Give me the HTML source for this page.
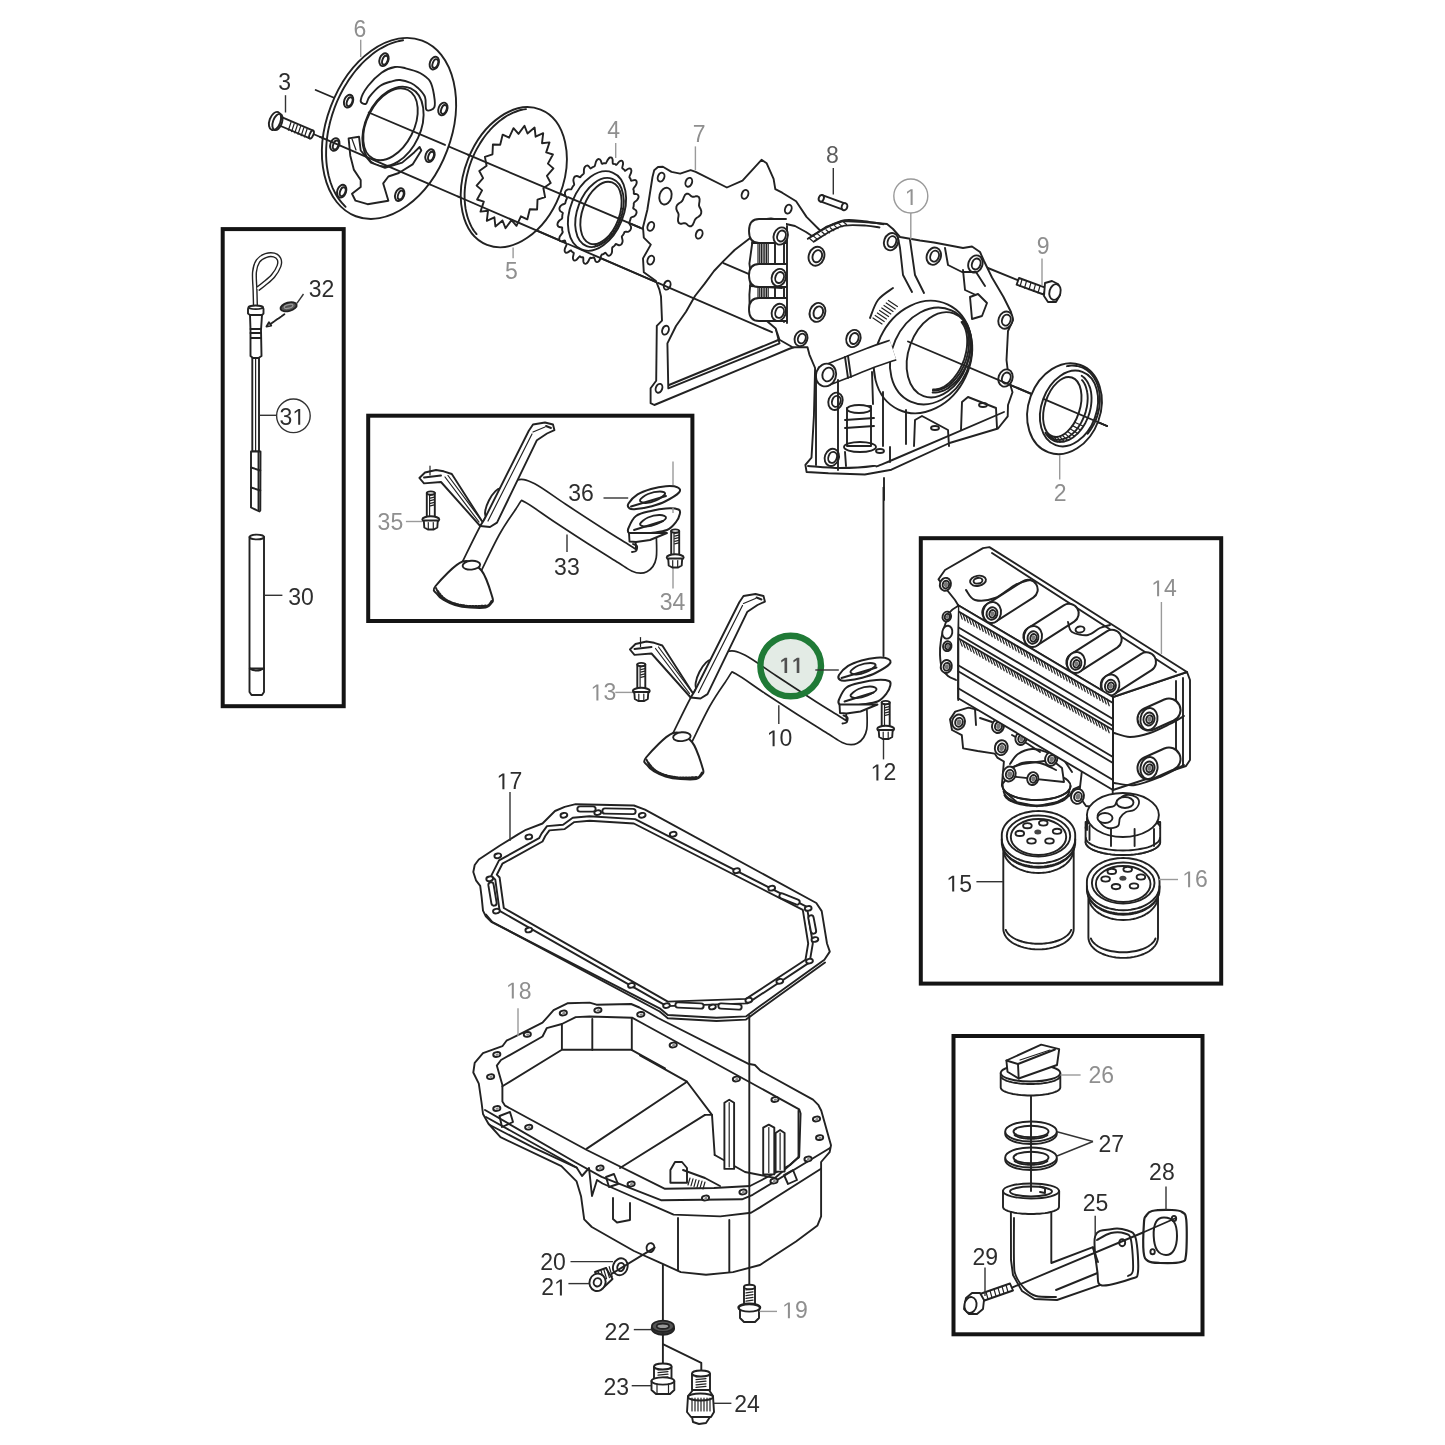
<!DOCTYPE html>
<html><head><meta charset="utf-8"><style>
html,body{margin:0;padding:0;background:#fff;}
svg{display:block;}
.s{fill:none;stroke:#222;stroke-width:1.9;stroke-linejoin:round;stroke-linecap:round;}
.w{fill:#fff;stroke:#222;stroke-width:1.9;stroke-linejoin:round;stroke-linecap:round;}
.t{fill:none;stroke:#222;stroke-width:1.2;stroke-linecap:round;}
.box{fill:none;stroke:#141414;stroke-width:4.0;}
.ld{fill:none;stroke:#333;stroke-width:1.4;}
.lg{fill:none;stroke:#9a9a9a;stroke-width:1.4;}
text{font-family:"Liberation Sans",sans-serif;font-size:23px;}
.lab{filter:grayscale(1);}
.d{fill:#2e2e2e;}
.g{fill:#8f8f8f;}
.m{fill:#5c5c5c;}
</style></head><body>
<svg width="1445" height="1445" viewBox="0 0 1445 1445">
<rect width="1445" height="1445" fill="#fff"/>
<rect class="box" x="222.7" y="229.1" width="121" height="477.1"/>
<rect class="box" x="368.2" y="415.7" width="324.2" height="205.3"/>
<rect class="box" x="920.8" y="538.2" width="300.4" height="445.4"/>
<rect class="box" x="953.5" y="1036" width="249" height="298.3"/>
<line class="s" x1="315.7" y1="90" x2="1107" y2="426" stroke-width="1.6"/>
<line class="s" x1="311" y1="133" x2="772" y2="332.2" stroke-width="1.6"/>
<line class="s" x1="983" y1="266" x2="1020" y2="281" stroke-width="1.6"/>
<ellipse class="w" cx="389" cy="128.4" rx="62.2" ry="93.9" transform="rotate(20.7 389 128.4)" />
<path class="s" d="M345.6,206.8 C345,206.1 343.1,204.3 341.9,202.9 C340.7,201.5 339.5,200 338.4,198.4 C337.3,196.9 336.3,195.2 335.4,193.5 C334.4,191.8 333.6,189.9 332.7,188.1 C331.9,186.2 331.2,184.3 330.5,182.3 C329.9,180.2 329.3,178.2 328.7,176 C328.2,173.9 327.8,171.7 327.4,169.5 C327,167.3 326.7,165 326.5,162.7 C326.3,160.4 326.2,158 326.1,155.6 C326.1,153.2 326.1,150.8 326.2,148.4 C326.3,145.9 326.5,143.4 326.7,141 C327,138.5 327.3,136 327.7,133.5 C328.1,131 328.6,128.5 329.2,126 C329.7,123.5 330.3,121 331.1,118.5 C331.8,116 332.5,113.5 333.4,111.1 C334.2,108.6 335.1,106.2 336.1,103.8 C337.1,101.4 338.2,99 339.3,96.7 C340.4,94.3 341.6,92 342.8,89.8 C344,87.5 345.3,85.3 346.7,83.2 C348,81 349.4,78.9 350.9,76.9 C352.3,74.9 353.8,72.9 355.3,71 C356.9,69.1 358.5,67.2 360.1,65.5 C361.7,63.7 363.4,62 365.1,60.4 C366.7,58.8 368.5,57.3 370.2,55.9 C372,54.4 373.7,53.1 375.5,51.8 C377.3,50.6 379.2,49.4 381,48.3 C382.8,47.3 384.6,46.3 386.5,45.4 C388.3,44.5 390.2,43.8 392,43.1 C393.9,42.4 395.8,41.8 397.6,41.4 C399.4,40.9 402.2,40.5 403.1,40.3" stroke-width="1.3"/>
<ellipse class="w" cx="384" cy="59.7" rx="4.4" ry="6.6" transform="rotate(20 384 59.7)" stroke-width="1.8"/>
<ellipse class="s" cx="385" cy="60.2" rx="2.6" ry="4.6" transform="rotate(20 385 60.2)" stroke-width="1.2"/>
<ellipse class="w" cx="434.3" cy="63.1" rx="4.4" ry="6.6" transform="rotate(20 434.3 63.1)" stroke-width="1.8"/>
<ellipse class="s" cx="435.3" cy="63.6" rx="2.6" ry="4.6" transform="rotate(20 435.3 63.6)" stroke-width="1.2"/>
<ellipse class="w" cx="348.6" cy="101.2" rx="4.4" ry="6.6" transform="rotate(20 348.6 101.2)" stroke-width="1.8"/>
<ellipse class="s" cx="349.6" cy="101.7" rx="2.6" ry="4.6" transform="rotate(20 349.6 101.7)" stroke-width="1.2"/>
<ellipse class="w" cx="442.9" cy="109" rx="4.4" ry="6.6" transform="rotate(20 442.9 109)" stroke-width="1.8"/>
<ellipse class="s" cx="443.9" cy="109.5" rx="2.6" ry="4.6" transform="rotate(20 443.9 109.5)" stroke-width="1.2"/>
<ellipse class="w" cx="334.8" cy="144.5" rx="4.4" ry="6.6" transform="rotate(20 334.8 144.5)" stroke-width="1.8"/>
<ellipse class="s" cx="335.8" cy="145" rx="2.6" ry="4.6" transform="rotate(20 335.8 145)" stroke-width="1.2"/>
<ellipse class="w" cx="430" cy="155.7" rx="4.4" ry="6.6" transform="rotate(20 430 155.7)" stroke-width="1.8"/>
<ellipse class="s" cx="431" cy="156.2" rx="2.6" ry="4.6" transform="rotate(20 431 156.2)" stroke-width="1.2"/>
<ellipse class="w" cx="341.7" cy="191.2" rx="4.4" ry="6.6" transform="rotate(20 341.7 191.2)" stroke-width="1.8"/>
<ellipse class="s" cx="342.7" cy="191.7" rx="2.6" ry="4.6" transform="rotate(20 342.7 191.7)" stroke-width="1.2"/>
<ellipse class="w" cx="399.7" cy="194.6" rx="4.4" ry="6.6" transform="rotate(20 399.7 194.6)" stroke-width="1.8"/>
<ellipse class="s" cx="400.7" cy="195.1" rx="2.6" ry="4.6" transform="rotate(20 400.7 195.1)" stroke-width="1.2"/>
<path class="w" d="M360.7,100.3 C361.1,97.3 364.5,90.6 368,86 C371.5,81.4 377,75.9 381.5,72.7 C386,69.5 391,67.7 395,67 C399,66.3 401.5,67.3 405.7,68.3 C409.9,69.3 415.9,70.8 420,73 C424.1,75.2 427.7,77.6 430,81.3 C432.3,85 433.3,90.7 434,95 C434.7,99.3 435.6,104.8 434.3,107.3 C433.1,109.8 428.1,111.6 426.5,109.9 C424.9,108.2 426.4,100.7 425,97 C423.6,93.3 420.4,90.3 418,88 C415.6,85.7 413.9,84.3 410.9,83 C407.9,81.7 403.2,80.3 400,80 C396.8,79.7 395.2,80.3 391.9,81.3 C388.6,82.3 383.8,83.4 380,86 C376.2,88.6 371.8,93.9 369.4,96.9 C367,99.9 367.3,103.2 365.9,103.8 C364.4,104.4 360.3,103.3 360.7,100.3 Z" />
<ellipse class="w" cx="393" cy="126.5" rx="27.5" ry="42" transform="rotate(25 393 126.5)" />
<ellipse class="w" cx="390.5" cy="124.3" rx="23.5" ry="38.5" transform="rotate(27 390.5 124.3)" stroke-width="2.3"/>
<path class="w" d="M348.6,138.4 L359,136.7 L360.7,150.5 L371,162.6 L385,167.8 L402.2,162.6 L414.4,152.2 L419.6,147 L421.3,150.5 L412.6,164.4 L398.8,173 L388.4,176.5 L383.2,183.4 L388.4,200.7 L367.6,204.2 L355.5,200.7 L352,193.8 L360.7,186.9 L360.7,180 L353.8,169.6 L350.3,155.7 Z" />
<line class="t" x1="352" y1="139" x2="356" y2="150" />
<line class="s" x1="368.7" y1="112.5" x2="445" y2="144.9" stroke-width="1.6"/>
<line class="s" x1="320" y1="136.9" x2="430" y2="184.4" stroke-width="1.6"/>
<path class="w" d="M278.3,125 L281.7,117.1 L313.2,130.6 L309.8,138.4 Z" />
<ellipse class="w" cx="311.5" cy="134.5" rx="1.8" ry="4.3" transform="rotate(23 311.5 134.5)" stroke-width="1.4"/>
<line class="t" x1="291" y1="122.3" x2="288.4" y2="130.2" />
<line class="t" x1="294.2" y1="123.7" x2="291.6" y2="131.6" />
<line class="t" x1="297.4" y1="125" x2="294.8" y2="132.9" />
<line class="t" x1="300.6" y1="126.4" x2="298" y2="134.3" />
<line class="t" x1="303.8" y1="127.8" x2="301.2" y2="135.7" />
<line class="t" x1="307" y1="129.2" x2="304.4" y2="137" />
<ellipse class="w" cx="275" cy="121" rx="5.5" ry="9.5" transform="rotate(20 275 121)" />
<ellipse class="s" cx="277.5" cy="122" rx="4.5" ry="8.5" transform="rotate(20 277.5 122)" stroke-width="1.4"/>
<ellipse class="w" cx="513.8" cy="177.2" rx="49.2" ry="72.7" transform="rotate(21.6 513.8 177.2)" />
<path class="s" d="M476.5,234.1 C476.1,233.5 474.7,231.8 473.9,230.7 C473.1,229.5 472.4,228.2 471.6,226.9 C470.9,225.6 470.3,224.2 469.7,222.8 C469.1,221.4 468.5,220 468,218.5 C467.5,217 467,215.4 466.7,213.8 C466.3,212.2 465.9,210.6 465.6,208.9 C465.4,207.3 465.1,205.6 465,203.9 C464.8,202.1 464.7,200.4 464.6,198.6 C464.6,196.8 464.6,195 464.6,193.2 C464.7,191.4 464.8,189.5 465,187.7 C465.1,185.8 465.4,184 465.7,182.1 C466,180.3 466.3,178.4 466.7,176.5 C467.1,174.7 467.6,172.8 468.1,170.9 C468.6,169.1 469.1,167.2 469.7,165.4 C470.4,163.5 471,161.7 471.7,159.9 C472.4,158.1 473.2,156.3 474,154.6 C474.8,152.8 475.7,151.1 476.6,149.4 C477.5,147.7 478.4,146 479.4,144.4 C480.4,142.7 481.5,141.1 482.5,139.6 C483.6,138 484.7,136.5 485.8,135 C487,133.6 488.1,132.1 489.3,130.8 C490.5,129.4 491.8,128.1 493,126.8 C494.3,125.6 495.6,124.4 496.9,123.2 C498.2,122.1 499.5,121 500.9,120 C502.2,119 503.6,118 504.9,117.1 C506.3,116.2 507.7,115.4 509.1,114.7 C510.5,113.9 511.9,113.2 513.3,112.6 C514.7,112 516.1,111.5 517.5,111 C519,110.5 520.4,110.1 521.8,109.8 C523.2,109.5 525.3,109.2 526,109.1" stroke-width="1.3"/>
<path class="w" d="M543.4,188.2 L545.1,197.1 L537.5,199.7 L537.1,209.5 L529.8,209.3 L527.3,219.4 L520.9,216.3 L516.5,225.8 L511.5,220.1 L505.5,228.2 L502.5,220.5 L495.4,226.5 L494.4,217.3 L486.8,220.8 L488,210.8 L480.5,211.6 L483.8,201.6 L477.1,199.5 L482.1,190.4 L476.6,185.6 L483.1,178.1 L479.3,171 L486.6,165.8 L484.9,156.9 L492.5,154.3 L492.9,144.5 L500.2,144.7 L502.7,134.6 L509.1,137.7 L513.5,128.2 L518.5,133.9 L524.5,125.8 L527.5,133.5 L534.6,127.5 L535.6,136.7 L543.2,133.2 L542,143.2 L549.5,142.4 L546.2,152.4 L552.9,154.5 L547.9,163.6 L553.4,168.4 L546.9,175.9 L550.7,183 Z" />
<line class="s" x1="458" y1="196.5" x2="568" y2="244" stroke-width="1.6"/>
<line class="s" x1="468" y1="154.7" x2="568" y2="197.1" stroke-width="1.6"/>
<path class="w" d="M629.1,223.1 C629.2,223.9 630.5,225.2 630.8,226.1 C631.2,227 631.1,227.9 631,228.6 C630.8,229.3 630.5,230 630,230.5 C629.5,231.1 628.9,231.5 628,231.8 C627.2,232 625.5,231.6 624.8,231.9 C624.2,232.2 624.2,233 623.9,233.5 C623.5,234.1 623.2,234.6 622.9,235.1 C622.5,235.7 621.9,235.8 621.8,236.7 C621.8,237.6 622.6,239.5 622.6,240.6 C622.7,241.6 622.4,242.5 622.1,243.2 C621.8,243.9 621.4,244.4 620.8,244.8 C620.3,245.1 619.6,245.4 618.8,245.2 C618,245.1 616.7,244 616,244 C615.4,244 615.2,244.9 614.8,245.3 C614.4,245.7 614,246.1 613.5,246.5 C613.1,246.9 612.5,246.8 612.2,247.7 C612,248.7 612.2,250.9 612,252.1 C611.8,253.2 611.4,253.9 610.9,254.5 C610.5,255.1 610,255.5 609.4,255.6 C608.8,255.8 608.2,255.8 607.6,255.3 C606.9,254.8 606.1,253.1 605.5,252.8 C604.9,252.5 604.5,253.4 604.1,253.6 C603.6,253.9 603.1,254.2 602.7,254.4 C602.2,254.7 601.7,254.3 601.3,255.1 C600.8,256 600.5,258.4 600,259.5 C599.5,260.6 599,261.2 598.5,261.6 C597.9,262.1 597.4,262.2 596.9,262.1 C596.4,262 595.8,261.7 595.4,261 C594.9,260.2 594.6,258.1 594.2,257.5 C593.7,257 593.2,257.7 592.8,257.8 C592.3,257.9 591.8,257.9 591.4,258 C590.9,258.1 590.6,257.4 590,258.1 C589.4,258.8 588.5,261.2 587.8,262.1 C587.1,263.1 586.5,263.5 586,263.7 C585.4,263.9 584.9,263.9 584.5,263.6 C584,263.2 583.7,262.7 583.4,261.7 C583.2,260.8 583.5,258.4 583.2,257.7 C583,256.9 582.4,257.5 582,257.3 C581.5,257.2 581.1,257.1 580.7,257 C580.3,256.8 580.1,256 579.5,256.5 C578.8,257 577.4,259.1 576.6,259.8 C575.8,260.4 575.2,260.6 574.6,260.6 C574.1,260.6 573.7,260.3 573.4,259.8 C573.1,259.3 572.9,258.6 572.9,257.5 C573,256.4 573.8,254 573.8,253.2 C573.7,252.3 573.1,252.6 572.7,252.3 C572.4,252 572,251.7 571.7,251.4 C571.4,251 571.5,250.2 570.8,250.4 C570.1,250.6 568.4,252.2 567.5,252.5 C566.6,252.9 566.1,252.8 565.6,252.6 C565.1,252.4 564.8,251.9 564.7,251.2 C564.6,250.6 564.6,249.8 564.9,248.7 C565.2,247.5 566.5,245.4 566.6,244.5 C566.8,243.6 566.2,243.6 566,243.2 C565.7,242.7 565.5,242.3 565.3,241.8 C565.1,241.3 565.4,240.4 564.7,240.4 C564.1,240.3 562.2,241.2 561.4,241.2 C560.6,241.3 560.1,240.9 559.7,240.5 C559.4,240 559.2,239.4 559.3,238.7 C559.3,238 559.5,237.1 560.1,236.1 C560.6,235.1 562.2,233.4 562.6,232.5 C563,231.7 562.4,231.4 562.3,230.9 C562.3,230.3 562.2,229.7 562.1,229.2 C562.1,228.6 562.5,227.8 562,227.4 C561.4,227.1 559.6,227.3 558.9,226.9 C558.1,226.6 557.8,226 557.6,225.4 C557.4,224.8 557.4,224.1 557.6,223.4 C557.9,222.7 558.2,221.9 559,221 C559.7,220.2 561.5,219.2 562,218.4 C562.6,217.7 562.1,217.2 562.2,216.6 C562.3,216 562.4,215.3 562.4,214.7 C562.5,214.1 563.1,213.5 562.7,212.8 C562.3,212.2 560.7,211.7 560.2,211 C559.6,210.4 559.5,209.6 559.4,208.9 C559.4,208.2 559.6,207.5 560,206.9 C560.3,206.2 560.9,205.5 561.7,205 C562.5,204.4 564.3,204.1 565,203.5 C565.6,203 565.4,202.3 565.6,201.7 C565.8,201.1 566,200.5 566.2,199.9 C566.5,199.3 567.1,198.9 566.9,198.1 C566.8,197.3 565.5,196 565.2,195.1 C564.8,194.2 564.9,193.3 565,192.6 C565.2,191.9 565.5,191.2 566,190.7 C566.5,190.1 567.1,189.7 568,189.4 C568.8,189.2 570.5,189.6 571.2,189.3 C571.8,189 571.8,188.2 572.1,187.7 C572.5,187.1 572.8,186.6 573.1,186.1 C573.5,185.5 574.1,185.4 574.2,184.5 C574.2,183.6 573.4,181.7 573.4,180.6 C573.3,179.6 573.6,178.7 573.9,178 C574.2,177.3 574.6,176.8 575.2,176.4 C575.7,176.1 576.4,175.8 577.2,176 C578,176.1 579.3,177.2 580,177.2 C580.6,177.2 580.8,176.3 581.2,175.9 C581.6,175.5 582,175.1 582.5,174.7 C582.9,174.3 583.5,174.4 583.8,173.5 C584,172.5 583.8,170.3 584,169.1 C584.2,168 584.6,167.3 585.1,166.7 C585.5,166.1 586,165.7 586.6,165.6 C587.2,165.4 587.8,165.4 588.4,165.9 C589.1,166.4 589.9,168.1 590.5,168.4 C591.1,168.7 591.5,167.8 591.9,167.6 C592.4,167.3 592.9,167 593.3,166.8 C593.8,166.5 594.3,166.9 594.7,166.1 C595.2,165.2 595.5,162.8 596,161.7 C596.5,160.6 597,160 597.5,159.6 C598.1,159.1 598.6,159 599.1,159.1 C599.6,159.2 600.2,159.5 600.6,160.2 C601.1,161 601.4,163.1 601.8,163.7 C602.3,164.2 602.8,163.5 603.2,163.4 C603.7,163.3 604.2,163.3 604.6,163.2 C605.1,163.1 605.4,163.8 606,163.1 C606.6,162.4 607.5,160 608.2,159.1 C608.9,158.1 609.5,157.7 610,157.5 C610.6,157.3 611.1,157.3 611.5,157.6 C612,158 612.3,158.5 612.6,159.5 C612.8,160.4 612.5,162.8 612.8,163.5 C613,164.3 613.6,163.7 614,163.9 C614.5,164 614.9,164.1 615.3,164.2 C615.7,164.4 615.9,165.2 616.5,164.7 C617.2,164.2 618.6,162.1 619.4,161.4 C620.2,160.8 620.8,160.6 621.4,160.6 C621.9,160.6 622.3,160.9 622.6,161.4 C622.9,161.9 623.1,162.6 623.1,163.7 C623,164.8 622.2,167.2 622.2,168 C622.3,168.9 622.9,168.6 623.3,168.9 C623.6,169.2 624,169.5 624.3,169.8 C624.6,170.2 624.5,171 625.2,170.8 C625.9,170.6 627.6,169 628.5,168.7 C629.4,168.3 629.9,168.4 630.4,168.6 C630.9,168.8 631.2,169.3 631.3,170 C631.4,170.6 631.4,171.4 631.1,172.5 C630.8,173.7 629.5,175.8 629.4,176.7 C629.2,177.6 629.8,177.6 630,178 C630.3,178.5 630.5,178.9 630.7,179.4 C630.9,179.9 630.6,180.8 631.3,180.8 C631.9,180.9 633.8,180 634.6,180 C635.4,179.9 635.9,180.3 636.3,180.7 C636.6,181.2 636.8,181.8 636.7,182.5 C636.7,183.2 636.5,184.1 635.9,185.1 C635.4,186.1 633.8,187.8 633.4,188.7 C633,189.5 633.6,189.8 633.7,190.3 C633.7,190.9 633.8,191.5 633.9,192 C633.9,192.6 633.5,193.4 634,193.8 C634.6,194.1 636.4,193.9 637.1,194.3 C637.9,194.6 638.2,195.2 638.4,195.8 C638.6,196.4 638.6,197.1 638.4,197.8 C638.1,198.5 637.8,199.3 637,200.2 C636.3,201 634.5,202 634,202.8 C633.4,203.5 633.9,204 633.8,204.6 C633.7,205.2 633.6,205.9 633.6,206.5 C633.5,207.1 632.9,207.7 633.3,208.4 C633.7,209 635.3,209.5 635.8,210.2 C636.4,210.8 636.5,211.6 636.6,212.3 C636.6,213 636.4,213.7 636,214.3 C635.7,215 635.1,215.7 634.3,216.2 C633.5,216.8 631.7,217.1 631,217.7 C630.4,218.2 630.6,218.9 630.4,219.5 C630.2,220.1 630,220.7 629.8,221.3 C629.5,221.9 628.9,222.3 629.1,223.1 Z" />
<ellipse class="w" cx="597" cy="211" rx="26.5" ry="41.5" transform="rotate(22 597 211)" stroke-width="2.2"/>
<ellipse class="s" cx="599.5" cy="212.5" rx="22" ry="36" transform="rotate(21 599.5 212.5)" stroke-width="1.3"/>
<ellipse class="w" cx="601" cy="213" rx="18.5" ry="32.5" transform="rotate(20 601 213)" stroke-width="2.2"/>
<line class="t" x1="621.1" y1="208.5" x2="623.2" y2="208.4" stroke-width="1.1"/>
<line class="t" x1="620.6" y1="211.8" x2="622.5" y2="212" stroke-width="1.1"/>
<line class="t" x1="619.8" y1="215" x2="621.6" y2="215.6" stroke-width="1.1"/>
<line class="t" x1="618.8" y1="218.3" x2="620.5" y2="219.2" stroke-width="1.1"/>
<line class="t" x1="617.6" y1="221.4" x2="619.1" y2="222.7" stroke-width="1.1"/>
<line class="t" x1="616.2" y1="224.5" x2="617.5" y2="226.1" stroke-width="1.1"/>
<line class="t" x1="614.6" y1="227.5" x2="615.7" y2="229.3" stroke-width="1.1"/>
<line class="t" x1="613" y1="230.3" x2="613.7" y2="232.4" stroke-width="1.1"/>
<line class="t" x1="611.1" y1="232.9" x2="611.6" y2="235.2" stroke-width="1.1"/>
<line class="t" x1="609.2" y1="235.3" x2="609.3" y2="237.8" stroke-width="1.1"/>
<line class="t" x1="607.2" y1="237.5" x2="606.9" y2="240.1" stroke-width="1.1"/>
<line class="t" x1="605.1" y1="239.4" x2="604.5" y2="242.2" stroke-width="1.1"/>
<line class="t" x1="602.9" y1="241" x2="602" y2="243.8" stroke-width="1.1"/>
<line class="t" x1="600.8" y1="242.3" x2="599.4" y2="245.2" stroke-width="1.1"/>
<line class="t" x1="598.6" y1="243.2" x2="596.9" y2="246.2" stroke-width="1.1"/>
<line class="t" x1="596.5" y1="243.9" x2="594.4" y2="246.8" stroke-width="1.1"/>
<line class="s" x1="568" y1="197.1" x2="640" y2="227.7" stroke-width="1.6"/>
<line class="s" x1="568" y1="244" x2="656" y2="282" stroke-width="1.6"/>
<path class="w" d="M652.5,177 L654.2,170.2 L658,167 L662.9,166.7 L671.5,171.9 L680.2,173.6 L690.6,170.2 L695.7,171.9 L726.9,187.5 L742.5,180.6 L761.5,159.8 L766.7,163.3 L773.6,178.8 L775.3,189.2 L782.2,192.7 L796.1,201.3 L806.5,216.9 L818.6,229 L830,240 L800,345 L788.8,349 L654.3,405 L650.6,403.2 L650.6,388.3 L656.2,380.8 L656.8,325.9 L662,320.7 L661,296.5 L659.4,289.6 L656,281 L643.8,272.2 L643,258.4 L650.8,244.6 L643.8,237.6 L643,227.3 L647.3,210 Z" />
<path class="w" d="M668.3,388.3 L667.4,343.4 L676,326 L686,311.7 L695,296 L704.7,283.6 L714,271 L723.4,261.2 L734.6,250 L752.8,236 L779.5,343.4 Z" />
<line class="s" x1="669" y1="385" x2="779.5" y2="339.5" stroke-width="2.6"/>
<ellipse class="w" cx="661.1" cy="177.1" rx="3.2" ry="4.6" transform="rotate(20 661.1 177.1)" stroke-width="1.8"/>
<ellipse class="w" cx="688.8" cy="182.3" rx="3.2" ry="4.6" transform="rotate(20 688.8 182.3)" stroke-width="1.8"/>
<ellipse class="w" cx="745" cy="194.4" rx="3.2" ry="4.6" transform="rotate(20 745 194.4)" stroke-width="1.8"/>
<ellipse class="w" cx="788.3" cy="209.1" rx="3.2" ry="4.6" transform="rotate(20 788.3 209.1)" stroke-width="1.8"/>
<ellipse class="w" cx="650.8" cy="226.4" rx="3.2" ry="4.6" transform="rotate(20 650.8 226.4)" stroke-width="1.8"/>
<ellipse class="w" cx="699.2" cy="234.2" rx="3.2" ry="4.6" transform="rotate(20 699.2 234.2)" stroke-width="1.8"/>
<ellipse class="w" cx="650.8" cy="260.1" rx="3.2" ry="4.6" transform="rotate(20 650.8 260.1)" stroke-width="1.8"/>
<ellipse class="w" cx="667.2" cy="285.2" rx="3.2" ry="4.6" transform="rotate(20 667.2 285.2)" stroke-width="1.8"/>
<ellipse class="w" cx="665.5" cy="330.2" rx="3.2" ry="4.6" transform="rotate(20 665.5 330.2)" stroke-width="1.8"/>
<ellipse class="w" cx="659" cy="388.3" rx="3.2" ry="4.6" transform="rotate(20 659 388.3)" stroke-width="1.8"/>
<ellipse class="w" cx="665.5" cy="196.1" rx="6" ry="8.5" transform="rotate(15 665.5 196.1)" stroke-width="1.9"/>
<path class="w" d="M701.2,213.3 L700.2,215.3 L698.5,216.8 L696.8,217.8 L695.5,218.9 L694.6,220.5 L693.8,222.7 L692.7,224.9 L691.1,226.2 L689.4,226.2 L687.8,225.2 L686.5,223.9 L685.3,223.2 L683.8,223.2 L682,223.7 L680.2,223.8 L678.7,222.9 L678,220.9 L678.1,218.5 L678.5,216.2 L678.6,214.3 L678,212.7 L677,211 L676.3,208.9 L676.4,206.7 L677.4,204.7 L679.1,203.2 L680.8,202.2 L682.1,201.1 L683,199.5 L683.8,197.3 L684.9,195.1 L686.5,193.8 L688.2,193.8 L689.8,194.8 L691.1,196.1 L692.3,196.8 L693.8,196.8 L695.5,196.3 L697.4,196.2 L698.9,197.1 L699.6,199.1 L699.5,201.5 L699.1,203.8 L699,205.7 L699.6,207.3 L700.6,209 L701.3,211.1 Z" />
<line class="s" x1="723.4" y1="263.1" x2="752" y2="275.3" stroke-width="1.6"/>
<line class="s" x1="658" y1="282.9" x2="772" y2="332.2" stroke-width="1.6"/>
<path class="w" d="M753.7,232.5 L756,224 L762,219.5 L771,218.5 L780,220 L786,224 L795,226 L806,232 L812,236 L826,227 L843,221 L864,222 L876,223 L887,224 L893,229 L900,237 L920,240.5 L934,242.5 L963,248 L972,246.5 L980,252 L984,261 L992,277.5 L1003.5,297 L1011,312 L1013,320 L1008,331 L1006.5,360 L1008.9,380 L1012.5,392.2 L1008,405 L1007.7,416.4 L998,428.5 L949.5,443 L891.4,469.7 L864.8,474.5 L828.4,473.3 L806.6,472 L805.4,464.8 L811.5,457.6 L813.9,416.4 L815.1,368 L809.4,354.6 L807.5,347.2 L792.6,347.2 L779.5,339.7 L775.7,328.5 L764.5,319.1 L751.4,311.7 L749.6,306 L749.4,294.7 L751,275.7 L749.4,263.6 Z" />
<line class="s" x1="787" y1="226" x2="787" y2="323" stroke-width="1.4"/>
<line class="s" x1="784" y1="228" x2="784" y2="322" stroke-width="1.1"/>
<line class="t" x1="758" y1="243.5" x2="758" y2="263" stroke-width="1.2"/>
<line class="t" x1="759.7" y1="243.5" x2="759.7" y2="263" stroke-width="1.2"/>
<line class="t" x1="761.4" y1="243.5" x2="761.4" y2="263" stroke-width="1.2"/>
<line class="t" x1="763.1" y1="243.5" x2="763.1" y2="263" stroke-width="1.2"/>
<line class="t" x1="764.8" y1="243.5" x2="764.8" y2="263" stroke-width="1.2"/>
<line class="t" x1="766.5" y1="243.5" x2="766.5" y2="263" stroke-width="1.2"/>
<line class="t" x1="768.2" y1="243.5" x2="768.2" y2="263" stroke-width="1.2"/>
<line class="s" x1="775" y1="243.5" x2="775" y2="263" stroke-width="1.4"/>
<line class="t" x1="758" y1="287.5" x2="758" y2="297.5" stroke-width="1.2"/>
<line class="t" x1="759.7" y1="287.5" x2="759.7" y2="297.5" stroke-width="1.2"/>
<line class="t" x1="761.4" y1="287.5" x2="761.4" y2="297.5" stroke-width="1.2"/>
<line class="t" x1="763.1" y1="287.5" x2="763.1" y2="297.5" stroke-width="1.2"/>
<line class="t" x1="764.8" y1="287.5" x2="764.8" y2="297.5" stroke-width="1.2"/>
<line class="t" x1="766.5" y1="287.5" x2="766.5" y2="297.5" stroke-width="1.2"/>
<line class="t" x1="768.2" y1="287.5" x2="768.2" y2="297.5" stroke-width="1.2"/>
<line class="s" x1="775" y1="287.5" x2="775" y2="297.5" stroke-width="1.4"/>
<path class="s" d="M752,243 L782,243" />
<path class="s" d="M750,286 L782,288" />
<path class="w" d="M786,219 L759,219 Q749,219 749,231 Q749,243 759,243 L786,243"/>
<path class="w" d="M786,264 L759,264 Q749,264 749,275.5 Q749,287 759,287 L786,287"/>
<path class="w" d="M786,298 L759,298 Q749,298 749,309.5 Q749,321 759,321 L786,321"/>
<ellipse class="w" cx="780.7" cy="236" rx="7" ry="8.8" transform="rotate(20 780.7 236)" stroke-width="1.8"/>
<ellipse class="s" cx="781.5" cy="236" rx="4.2" ry="5.6" transform="rotate(20 781.5 236)" stroke-width="1.4"/>
<ellipse class="w" cx="778.8" cy="277.5" rx="7" ry="8.8" transform="rotate(20 778.8 277.5)" stroke-width="1.8"/>
<ellipse class="s" cx="779.6" cy="277.5" rx="4.2" ry="5.6" transform="rotate(20 779.6 277.5)" stroke-width="1.4"/>
<ellipse class="w" cx="778.8" cy="312.4" rx="7" ry="8.8" transform="rotate(20 778.8 312.4)" stroke-width="1.8"/>
<ellipse class="s" cx="779.6" cy="312.4" rx="4.2" ry="5.6" transform="rotate(20 779.6 312.4)" stroke-width="1.4"/>
<ellipse class="w" cx="816.5" cy="256.2" rx="7.7" ry="9.7" transform="rotate(20 816.5 256.2)" stroke-width="1.8"/>
<ellipse class="s" cx="817.3" cy="256.2" rx="4.6" ry="6.2" transform="rotate(20 817.3 256.2)" stroke-width="1.4"/>
<ellipse class="w" cx="891.1" cy="241.7" rx="7" ry="8.8" transform="rotate(20 891.1 241.7)" stroke-width="1.8"/>
<ellipse class="s" cx="891.9" cy="241.7" rx="4.2" ry="5.6" transform="rotate(20 891.9 241.7)" stroke-width="1.4"/>
<ellipse class="w" cx="933.8" cy="256.2" rx="7" ry="8.8" transform="rotate(20 933.8 256.2)" stroke-width="1.8"/>
<ellipse class="s" cx="934.6" cy="256.2" rx="4.2" ry="5.6" transform="rotate(20 934.6 256.2)" stroke-width="1.4"/>
<ellipse class="w" cx="975.4" cy="264" rx="7" ry="8.8" transform="rotate(20 975.4 264)" stroke-width="1.8"/>
<ellipse class="s" cx="976.2" cy="264" rx="4.2" ry="5.6" transform="rotate(20 976.2 264)" stroke-width="1.4"/>
<ellipse class="w" cx="817.5" cy="312.4" rx="7.7" ry="9.7" transform="rotate(20 817.5 312.4)" stroke-width="1.8"/>
<ellipse class="s" cx="818.3" cy="312.4" rx="4.6" ry="6.2" transform="rotate(20 818.3 312.4)" stroke-width="1.4"/>
<ellipse class="w" cx="853.4" cy="338.5" rx="7" ry="8.8" transform="rotate(20 853.4 338.5)" stroke-width="1.8"/>
<ellipse class="s" cx="854.2" cy="338.5" rx="4.2" ry="5.6" transform="rotate(20 854.2 338.5)" stroke-width="1.4"/>
<ellipse class="w" cx="801" cy="338.5" rx="6.3" ry="7.9" transform="rotate(20 801 338.5)" stroke-width="1.8"/>
<ellipse class="s" cx="801.8" cy="338.5" rx="3.8" ry="5" transform="rotate(20 801.8 338.5)" stroke-width="1.4"/>
<ellipse class="w" cx="1005.5" cy="320.1" rx="7" ry="8.8" transform="rotate(20 1005.5 320.1)" stroke-width="1.8"/>
<ellipse class="s" cx="1006.3" cy="320.1" rx="4.2" ry="5.6" transform="rotate(20 1006.3 320.1)" stroke-width="1.4"/>
<ellipse class="w" cx="1005.5" cy="378" rx="7" ry="8.8" transform="rotate(20 1005.5 378)" stroke-width="1.8"/>
<ellipse class="s" cx="1006.3" cy="378" rx="4.2" ry="5.6" transform="rotate(20 1006.3 378)" stroke-width="1.4"/>
<ellipse class="w" cx="835.5" cy="401.3" rx="7" ry="8.8" transform="rotate(20 835.5 401.3)" stroke-width="1.8"/>
<ellipse class="s" cx="836.3" cy="401.3" rx="4.2" ry="5.6" transform="rotate(20 836.3 401.3)" stroke-width="1.4"/>
<ellipse class="w" cx="831.8" cy="457.4" rx="7" ry="8.8" transform="rotate(20 831.8 457.4)" stroke-width="1.8"/>
<ellipse class="s" cx="832.6" cy="457.4" rx="4.2" ry="5.6" transform="rotate(20 832.6 457.4)" stroke-width="1.4"/>
<path class="s" d="M807.8,238.8 C811,236.9 821.1,230.2 827.2,227.1 C833.3,224 838.5,221.3 844.6,220.3 C850.7,219.3 857.5,220.7 864,221.3 C870.5,222 880.2,223.7 883.4,224.2" stroke-width="1.9"/>
<path class="s" d="M813.6,241.7 C816.5,239.9 825.9,233.7 831.1,231 C836.3,228.3 838.8,226.5 844.6,225.6 C850.4,224.7 860.2,225.3 866,225.6 C871.8,225.9 877.2,227.2 879.5,227.5" stroke-width="1.4"/>
<line class="t" x1="809" y1="238" x2="812.5" y2="241" stroke-width="1"/>
<line class="t" x1="813.2" y1="235.9" x2="816.8" y2="238.9" stroke-width="1"/>
<line class="t" x1="817.5" y1="233.9" x2="821" y2="236.9" stroke-width="1"/>
<line class="t" x1="821.8" y1="231.8" x2="825.2" y2="234.8" stroke-width="1"/>
<line class="t" x1="826" y1="229.8" x2="829.5" y2="232.8" stroke-width="1"/>
<line class="t" x1="830.2" y1="227.7" x2="833.8" y2="230.7" stroke-width="1"/>
<line class="t" x1="834.5" y1="225.6" x2="838" y2="228.6" stroke-width="1"/>
<line class="t" x1="838.8" y1="223.6" x2="842.2" y2="226.6" stroke-width="1"/>
<line class="t" x1="843" y1="221.5" x2="846.5" y2="224.5" stroke-width="1"/>
<path class="s" d="M898,238 L900,248 L903,275 L912,292" />
<path class="s" d="M910,240 L915,275 L924,293" />
<path class="s" d="M945,248 L948,265 L962,272 L976,272 L985,286" />
<path class="s" d="M963,270 L965,290 L978,296" />
<path class="w" d="M970,297 L978,294 L987,303 L982,316 L972,319 Z" />
<path class="s" d="M870,318 C871.3,315 874.2,305 878,300 C881.8,295 890.5,290 893,288" stroke-width="1.7"/>
<line class="t" x1="873" y1="318" x2="882" y2="324" stroke-width="1"/>
<line class="t" x1="875.2" y1="315.5" x2="884.2" y2="321.5" stroke-width="1"/>
<line class="t" x1="877.4" y1="313" x2="886.4" y2="319" stroke-width="1"/>
<line class="t" x1="879.6" y1="310.5" x2="888.6" y2="316.5" stroke-width="1"/>
<line class="t" x1="881.8" y1="308" x2="890.8" y2="314" stroke-width="1"/>
<line class="t" x1="884" y1="305.5" x2="893" y2="311.5" stroke-width="1"/>
<line class="t" x1="886.2" y1="303" x2="895.2" y2="309" stroke-width="1"/>
<line class="t" x1="888.4" y1="300.5" x2="897.4" y2="306.5" stroke-width="1"/>
<ellipse class="w" cx="923" cy="357" rx="47" ry="58" transform="rotate(25 923 357)" stroke-width="2"/>
<ellipse class="s" cx="931" cy="356" rx="39" ry="50" transform="rotate(24 931 356)" stroke-width="1.4"/>
<ellipse class="w" cx="938.6" cy="354.8" rx="30" ry="44" transform="rotate(20 938.6 354.8)" stroke-width="2.6"/>
<path class="s" d="M963.9,320 C964.2,320.4 965.2,321.6 965.8,322.5 C966.4,323.4 967,324.4 967.5,325.5 C968,326.5 968.4,327.6 968.8,328.7 C969.2,329.9 969.6,331.1 969.9,332.3 C970.1,333.5 970.4,334.8 970.6,336.1 C970.7,337.4 970.9,338.7 970.9,340.1 C971,341.4 971,342.8 971,344.2 C970.9,345.6 970.8,347.1 970.6,348.5 C970.5,349.9 970.3,351.4 970,352.8 C969.7,354.3 969.4,355.7 969,357.1 C968.6,358.6 968.2,360 967.7,361.4 C967.2,362.8 966.6,364.2 966.1,365.6 C965.5,366.9 964.8,368.3 964.1,369.6 C963.5,370.9 962.7,372.2 962,373.4 C961.2,374.6 960.4,375.8 959.6,377 C958.7,378.1 957.9,379.2 957,380.3 C956.1,381.3 955.1,382.3 954.2,383.2 C953.2,384.2 952.2,385 951.2,385.8 C950.2,386.6 949.2,387.4 948.2,388.1 C947.2,388.7 946.1,389.3 945.1,389.9 C944,390.4 943,390.8 941.9,391.2 C940.9,391.6 939.8,391.9 938.8,392.1 C937.7,392.4 936.7,392.5 935.6,392.6 C934.6,392.6 933.1,392.6 932.6,392.5" stroke-width="1.2"/>
<path class="s" d="M962.6,321.5 C962.9,321.9 963.8,323 964.4,323.9 C964.9,324.8 965.4,325.7 965.9,326.7 C966.3,327.7 966.7,328.7 967.1,329.8 C967.5,330.8 967.8,332 968,333.1 C968.3,334.3 968.5,335.5 968.7,336.7 C968.8,338 968.9,339.2 969,340.5 C969,341.8 969,343.1 969,344.5 C968.9,345.8 968.8,347.1 968.6,348.5 C968.5,349.9 968.3,351.2 968,352.6 C967.7,354 967.4,355.3 967,356.7 C966.7,358.1 966.2,359.4 965.8,360.7 C965.3,362.1 964.8,363.4 964.2,364.7 C963.7,366 963.1,367.3 962.4,368.5 C961.8,369.8 961.1,371 960.4,372.2 C959.7,373.4 958.9,374.5 958.1,375.6 C957.3,376.7 956.5,377.7 955.7,378.7 C954.8,379.7 954,380.7 953.1,381.6 C952.2,382.5 951.2,383.3 950.3,384.1 C949.4,384.8 948.4,385.5 947.5,386.2 C946.5,386.8 945.5,387.4 944.5,387.9 C943.6,388.4 942.6,388.9 941.6,389.2 C940.6,389.6 939.6,389.9 938.7,390.1 C937.7,390.4 936.7,390.5 935.8,390.6 C934.8,390.7 933.4,390.6 932.9,390.6" stroke-width="1.2"/>
<path class="s" d="M961.6,322.1 C961.9,322.5 962.7,323.6 963.2,324.5 C963.7,325.3 964.2,326.2 964.6,327.1 C965,328 965.3,329 965.7,330.1 C966,331.1 966.3,332.2 966.5,333.3 C966.7,334.4 966.9,335.6 967,336.8 C967.1,338 967.2,339.2 967.2,340.4 C967.2,341.7 967.2,343 967.1,344.3 C967.1,345.6 966.9,346.9 966.8,348.2 C966.6,349.5 966.4,350.8 966.1,352.2 C965.8,353.5 965.5,354.8 965.1,356.1 C964.8,357.5 964.3,358.8 963.9,360.1 C963.4,361.4 962.9,362.7 962.4,363.9 C961.9,365.2 961.3,366.5 960.7,367.7 C960,368.9 959.4,370.1 958.7,371.2 C958,372.4 957.3,373.5 956.5,374.6 C955.8,375.7 955,376.7 954.2,377.7 C953.4,378.6 952.6,379.6 951.7,380.5 C950.9,381.3 950,382.2 949.2,382.9 C948.3,383.7 947.4,384.4 946.5,385 C945.6,385.7 944.7,386.3 943.8,386.8 C942.8,387.3 941.9,387.7 941,388.1 C940.1,388.5 939.2,388.8 938.3,389 C937.4,389.2 936.5,389.4 935.6,389.5 C934.7,389.6 933.4,389.5 933,389.5" stroke-width="1.2"/>
<line class="s" x1="908" y1="341.5" x2="1107" y2="426" stroke-width="1.6"/>
<path class="none" d="M822,377 C825.8,375.5 837,371.2 845,368 C853,364.8 862,361 870,358 C878,355 889.2,351.3 893,350" fill='none' stroke='#222' stroke-width='22' stroke-linecap='butt' stroke-linejoin='round'/>
<path class="none" d="M822,377 C825.8,375.5 837,371.2 845,368 C853,364.8 862,361 870,358 C878,355 889.2,351.3 893,350" fill='none' stroke='#fff' stroke-width='18.8' stroke-linecap='butt' stroke-linejoin='round'/>
<ellipse class="w" cx="826" cy="375" rx="10" ry="11.5" transform="rotate(20 826 375)" stroke-width="1.9"/>
<ellipse class="s" cx="828" cy="374.5" rx="5.5" ry="7" transform="rotate(20 828 374.5)" stroke-width="1.4"/>
<line class="s" x1="845" y1="357" x2="848" y2="378" stroke-width="1.2"/>
<line class="s" x1="848" y1="356" x2="851" y2="377" stroke-width="1.2"/>
<path class="w" d="M847,446 L847,408 L871,406 L871,446 Z" />
<ellipse class="w" cx="859" cy="409" rx="12" ry="4" stroke-width="1.4"/>
<path class="s" d="M845,420 L874,418" />
<path class="s" d="M845,428 L874,426" />
<ellipse class="s" cx="860" cy="447" rx="16" ry="5" stroke-width="1.4"/>
<line class="s" x1="816" y1="373" x2="816" y2="465" stroke-width="1.3"/>
<line class="s" x1="838" y1="380" x2="838" y2="470" stroke-width="1.2"/>
<line class="s" x1="872" y1="372" x2="873" y2="404" stroke-width="1.2"/>
<line class="s" x1="883" y1="392" x2="883" y2="446" stroke-width="1.2"/>
<line class="s" x1="906" y1="410" x2="906" y2="444" stroke-width="1.2"/>
<path class="s" d="M914,446 L915,420 L922,416 L948,430 L949,446" />
<path class="s" d="M961,430 L962,402 L968,397 L996,408 L997,428" />
<ellipse class="s" cx="935" cy="428" rx="4" ry="2" />
<ellipse class="s" cx="983" cy="405" rx="4" ry="2" />
<path class="s" d="M808,466 C813.3,466.3 829.2,468 840,468 C850.8,468 864.7,467.2 873,466 C881.3,464.8 868.2,470 890,461 C911.8,452 985,420.2 1004,412" stroke-width="1.6"/>
<line class="s" x1="845" y1="452" x2="846" y2="466" stroke-width="1.2"/>
<line class="s" x1="890" y1="447" x2="890" y2="462" stroke-width="1.2"/>
<ellipse class="s" cx="880" cy="451" rx="4" ry="2" />
<line class="s" x1="884" y1="478" x2="884" y2="500" stroke-width="1.6"/>
<path class="w" d="M822.3,195.2 L845.5,203.6 L843.6,209.8 L820.4,201.4 Z" />
<ellipse class="w" cx="844.5" cy="206.7" rx="2.8" ry="3.6" transform="rotate(20 844.5 206.7)" stroke-width="1.6"/>
<ellipse class="w" cx="821.3" cy="198.3" rx="2.5" ry="3.4" transform="rotate(20 821.3 198.3)" stroke-width="1.6"/>
<path class="w" d="M1019,278 L1046,287.8 L1043.6,294.5 L1016.6,284.7 Z" />
<line class="t" x1="1022" y1="279.5" x2="1020" y2="286.5" />
<line class="t" x1="1026.5" y1="281.1" x2="1024.5" y2="288.1" />
<line class="t" x1="1031" y1="282.7" x2="1029" y2="289.7" />
<line class="t" x1="1035.5" y1="284.3" x2="1033.5" y2="291.3" />
<line class="t" x1="1040" y1="285.9" x2="1038" y2="292.9" />
<path class="w" d="M1045,283 L1052,281 L1058,284 L1060,295 L1056,302 L1048,302 L1044,296 Z" />
<ellipse class="w" cx="1055" cy="292" rx="5.5" ry="8" transform="rotate(15 1055 292)" stroke-width="1.7"/>
<ellipse class="w" cx="1064.5" cy="408.7" rx="36" ry="46.5" transform="rotate(20 1064.5 408.7)" stroke-width="2.3"/>
<path class="s" d="M1067,366.2 C1067.4,366.1 1068.8,365.8 1069.7,365.7 C1070.6,365.7 1071.5,365.6 1072.4,365.6 C1073.3,365.6 1074.2,365.6 1075,365.7 C1075.9,365.8 1076.8,365.9 1077.6,366.1 C1078.5,366.3 1079.3,366.5 1080.2,366.8 C1081,367 1081.8,367.3 1082.6,367.7 C1083.4,368 1084.2,368.4 1084.9,368.9 C1085.7,369.3 1086.4,369.8 1087.1,370.3 C1087.8,370.8 1088.5,371.4 1089.2,372 C1089.9,372.6 1090.5,373.2 1091.1,373.9 C1091.7,374.6 1092.3,375.3 1092.9,376.1 C1093.4,376.8 1094,377.6 1094.4,378.4 C1094.9,379.2 1095.4,380.1 1095.8,380.9 C1096.3,381.8 1096.7,382.7 1097,383.6 C1097.4,384.6 1097.7,385.5 1098,386.5 C1098.3,387.5 1098.6,388.5 1098.8,389.5 C1099.1,390.5 1099.2,391.6 1099.4,392.6 C1099.6,393.7 1099.7,394.7 1099.8,395.8 C1099.8,396.9 1099.9,398 1099.9,399.1 C1099.9,400.2 1099.9,401.3 1099.8,402.4 C1099.7,403.5 1099.6,404.7 1099.5,405.8 C1099.4,406.9 1099.2,408 1099,409.2 C1098.8,410.3 1098.5,411.4 1098.2,412.5 C1098,413.6 1097.6,414.7 1097.3,415.8 C1096.9,416.9 1096.6,418 1096.1,419.1 C1095.7,420.2 1095.3,421.2 1094.8,422.3 C1094.3,423.3 1093.8,424.4 1093.2,425.4 C1092.7,426.4 1092.1,427.4 1091.5,428.3 C1090.9,429.3 1090.3,430.2 1089.6,431.1 C1089,432.1 1087.9,433.4 1087.6,433.8" stroke-width="1.4"/>
<ellipse class="s" cx="1069" cy="408.5" rx="27.5" ry="39" transform="rotate(20 1069 408.5)" stroke-width="1.3"/>
<path class="s" d="M1081.7,375.8 C1082.1,376.1 1083.2,376.9 1083.9,377.5 C1084.6,378.2 1085.3,378.9 1085.9,379.7 C1086.5,380.5 1087.1,381.4 1087.6,382.3 C1088.1,383.2 1088.6,384.1 1089,385.1 C1089.5,386.2 1089.8,387.2 1090.2,388.3 C1090.5,389.4 1090.7,390.6 1091,391.8 C1091.2,393 1091.3,394.2 1091.4,395.4 C1091.5,396.7 1091.6,398 1091.5,399.3 C1091.5,400.6 1091.5,401.9 1091.3,403.2 C1091.2,404.5 1091,405.9 1090.8,407.2 C1090.5,408.5 1090.3,409.9 1089.9,411.2 C1089.6,412.5 1089.2,413.9 1088.7,415.2 C1088.3,416.4 1087.8,417.7 1087.2,419 C1086.7,420.3 1086.1,421.5 1085.5,422.7 C1084.8,423.9 1084.1,425.1 1083.4,426.2 C1082.7,427.3 1082,428.4 1081.2,429.4 C1080.4,430.4 1079.6,431.4 1078.7,432.3 C1077.9,433.3 1077,434.1 1076.1,434.9 C1075.2,435.7 1074.3,436.5 1073.3,437.2 C1072.4,437.8 1071.5,438.5 1070.5,439 C1069.5,439.5 1068.6,440 1067.6,440.4 C1066.6,440.8 1065.7,441.1 1064.7,441.4 C1063.7,441.6 1062.8,441.8 1061.8,441.9 C1060.8,441.9 1059.9,442 1059,441.9 C1058.1,441.8 1057.1,441.7 1056.3,441.5 C1055.4,441.2 1054.5,440.9 1053.7,440.6 C1052.8,440.2 1052,439.7 1051.3,439.2 C1050.5,438.7 1049.8,438.1 1049.1,437.5 C1048.4,436.8 1047.7,436.1 1047.1,435.3 C1046.5,434.5 1045.7,433.2 1045.4,432.7" stroke-width="1.3"/>
<path class="s" d="M1082,380.1 C1082.3,380.4 1083.1,381.3 1083.5,382 C1084,382.7 1084.4,383.5 1084.8,384.3 C1085.2,385 1085.5,385.9 1085.8,386.7 C1086.1,387.6 1086.4,388.5 1086.6,389.5 C1086.9,390.4 1087.1,391.4 1087.2,392.4 C1087.4,393.4 1087.5,394.4 1087.6,395.5 C1087.6,396.5 1087.7,397.6 1087.7,398.7 C1087.6,399.8 1087.6,400.9 1087.5,402 C1087.4,403.1 1087.3,404.2 1087.1,405.3 C1086.9,406.5 1086.7,407.6 1086.4,408.7 C1086.2,409.9 1085.9,411 1085.6,412.1 C1085.2,413.2 1084.9,414.3 1084.5,415.4 C1084.1,416.5 1083.6,417.6 1083.1,418.7 C1082.7,419.7 1082.2,420.8 1081.6,421.8 C1081.1,422.8 1080.5,423.8 1079.9,424.8 C1079.3,425.7 1078.7,426.6 1078.1,427.5 C1077.4,428.4 1076.7,429.3 1076.1,430.1 C1075.4,430.9 1074.7,431.7 1073.9,432.4 C1073.2,433.1 1072.5,433.8 1071.7,434.4 C1071,435 1070.2,435.6 1069.4,436.2 C1068.6,436.7 1067.8,437.2 1067.1,437.6 C1066.3,438 1065.5,438.4 1064.7,438.7 C1063.9,439 1063.1,439.2 1062.3,439.4 C1061.5,439.6 1060.8,439.8 1060,439.8 C1059.2,439.9 1058.5,439.9 1057.7,439.9 C1057,439.8 1056.2,439.7 1055.5,439.6 C1054.8,439.4 1054.1,439.2 1053.4,438.9 C1052.7,438.6 1052.1,438.3 1051.4,437.9 C1050.8,437.5 1050.2,437.1 1049.6,436.6 C1049,436.1 1048.2,435.2 1048,434.9" stroke-width="1.2"/>
<ellipse class="w" cx="1062.3" cy="407" rx="17.5" ry="31" transform="rotate(18 1062.3 407)" stroke-width="2.5"/>
<line class="t" x1="1074.7" y1="422.2" x2="1083.4" y2="426.2" stroke-width="1"/>
<line class="t" x1="1072.5" y1="425.6" x2="1080.7" y2="430" stroke-width="1"/>
<line class="t" x1="1070.1" y1="428.7" x2="1077.7" y2="433.4" stroke-width="1"/>
<line class="t" x1="1067.6" y1="431.4" x2="1074.5" y2="436.3" stroke-width="1"/>
<line class="t" x1="1065" y1="433.6" x2="1071.1" y2="438.7" stroke-width="1"/>
<line class="t" x1="1062.3" y1="435.2" x2="1067.6" y2="440.4" stroke-width="1"/>
<line class="t" x1="1059.7" y1="436.4" x2="1064.1" y2="441.5" stroke-width="1"/>
<line class="t" x1="1057" y1="436.9" x2="1060.7" y2="441.9" stroke-width="1"/>
<line class="t" x1="1054.5" y1="436.9" x2="1057.3" y2="441.7" stroke-width="1"/>
<line class="t" x1="1052.1" y1="436.3" x2="1054.2" y2="440.8" stroke-width="1"/>
<line class="t" x1="1050" y1="435.1" x2="1051.3" y2="439.2" stroke-width="1"/>
<line class="t" x1="1048" y1="433.4" x2="1048.6" y2="437.1" stroke-width="1"/>
<line class="s" x1="1044" y1="399.2" x2="1107" y2="426" stroke-width="1.6"/>
<line class="lg" x1="360.7" y1="39.8" x2="360.7" y2="57" />
<line class="ld" x1="285.5" y1="95.2" x2="285.5" y2="112.5" />
<line class="lg" x1="513.1" y1="247.4" x2="513.1" y2="258.2" />
<line class="lg" x1="615.7" y1="143.1" x2="615.7" y2="157.9" />
<line class="lg" x1="695.4" y1="146.4" x2="695.4" y2="170.2" />
<line class="ld" x1="833.3" y1="168" x2="833.3" y2="194.4" />
<circle class="lg" cx="910.8" cy="196" r="17" />
<line class="lg" x1="910.8" y1="213" x2="910.8" y2="239.6" />
<line class="lg" x1="1042" y1="258.4" x2="1042" y2="285.6" />
<line class="lg" x1="1059.7" y1="455" x2="1059.7" y2="479.4" />
<path class="none" d="M255.5,309 C255.4,305.8 255.2,296.2 255,290 C254.8,283.8 254,276.8 254.5,272 C255,267.2 256.1,263.8 258,261 C259.9,258.2 263.3,256.5 266,255.5 C268.7,254.5 271.8,254.4 274,255 C276.2,255.6 278.2,257.2 279,259 C279.8,260.8 280,263.2 279,266 C278,268.8 275.5,273 273,276 C270.5,279 266.6,281.8 264,284 C261.4,286.2 258.6,288.2 257.5,289" fill='none' stroke='#222' stroke-width='5.2' stroke-linecap='butt' stroke-linejoin='round'/>
<path class="none" d="M255.5,309 C255.4,305.8 255.2,296.2 255,290 C254.8,283.8 254,276.8 254.5,272 C255,267.2 256.1,263.8 258,261 C259.9,258.2 263.3,256.5 266,255.5 C268.7,254.5 271.8,254.4 274,255 C276.2,255.6 278.2,257.2 279,259 C279.8,260.8 280,263.2 279,266 C278,268.8 275.5,273 273,276 C270.5,279 266.6,281.8 264,284 C261.4,286.2 258.6,288.2 257.5,289" fill='none' stroke='#fff' stroke-width='2.4' stroke-linecap='butt' stroke-linejoin='round'/>
<path class="w" d="M248,309 L249,307 L262.5,307 L263.5,309 L263.5,313.5 L262,315 L250,315 L248,313.5 Z" />
<ellipse class="w" cx="255.7" cy="307.3" rx="7.2" ry="1.8" stroke-width="1.4"/>
<path class="w" d="M250,315 L262,315 L261,330 L261.5,356 L258.5,358 L253,358 L250.5,356 L250.5,330 Z" />
<path class="s" d="M250.5,329 L261,329" stroke-width="2.4"/>
<path class="s" d="M250.5,333 L261,333" stroke-width="2.4"/>
<path class="s" d="M251,338 L261,338" stroke-width="1.4"/>
<path class="w" d="M252.3,358 L259,358 L259,451.5 L252.3,451.5 Z" />
<line class="t" x1="255.6" y1="359" x2="255.6" y2="451" stroke-width="1"/>
<path class="w" d="M251,451.5 L260.5,451.5 L260.3,510.5 L259.5,511.5 L251,507.5 Z" />
<line class="s" x1="251" y1="467.5" x2="260.3" y2="470.5" stroke-width="2.9"/>
<line class="s" x1="251" y1="487.5" x2="260.3" y2="490.5" stroke-width="2.9"/>
<line class="s" x1="258.5" y1="452" x2="258.5" y2="510" stroke-width="1.9"/>
<path class="w" d="M249.5,537 L264,537 L264,692 L262,695 L251.5,695 L249.5,692 Z" />
<ellipse class="w" cx="256.8" cy="537" rx="7.2" ry="2.4" stroke-width="1.9"/>
<line class="s" x1="249.8" y1="668.5" x2="263.8" y2="668.5" stroke-width="1.4"/>
<path class="s" d="M250,668.5 C250.5,668.8 251.9,669.7 253,670 C254.1,670.3 255.4,670.5 256.7,670.5 C257.9,670.5 259.3,670.3 260.5,670 C261.7,669.7 263.2,668.8 263.8,668.5" stroke-width="1.2"/>
<line class="ld" x1="264" y1="595.3" x2="282.4" y2="595.3" />
<ellipse class="none" cx="288.6" cy="306.8" rx="8.3" ry="4.2" transform="rotate(-15 288.6 306.8)" fill="#555" stroke="#222" stroke-width="1.9"/>
<ellipse class="none" cx="288.6" cy="306.4" rx="4.5" ry="1.8" transform="rotate(-15 288.6 306.4)" fill="none" stroke="#999" stroke-width="1.2"/>
<line class="ld" x1="296.9" y1="303.4" x2="303.5" y2="294" />
<line class="s" x1="284.4" y1="314.3" x2="270" y2="324.3" stroke-width="1.9" stroke-dasharray="3 1.2"/>
<path class="w" d="M266.5,326.6 L269,322.3 L271.2,325.6 Z" />
<circle class="ld" cx="293.4" cy="415.8" r="16.8" />
<line class="ld" x1="259.5" y1="415.3" x2="276.6" y2="415.3" />
<g>
<path class="none" d="M471,568 C474.2,561.7 484.2,540.5 490,530 C495.8,519.5 501.5,511.5 506,505 C510.5,498.5 513,493 517,491 C521,489 522.8,489.3 530,493 C537.2,496.7 548.3,505.3 560,513 C571.7,520.7 589.3,532.2 600,539 C610.7,545.8 618,550.2 624,554 C630,557.8 633,560.1 636,561.5 C639,562.9 640.3,563.4 642,562.5 C643.7,561.6 645.3,560.1 646,556 C646.7,551.9 646,541 646,538" fill='none' stroke='#222' stroke-width='22.5' stroke-linecap='butt' stroke-linejoin='round'/>
<path class="none" d="M471,568 C474.2,561.7 484.2,540.5 490,530 C495.8,519.5 501.5,511.5 506,505 C510.5,498.5 513,493 517,491 C521,489 522.8,489.3 530,493 C537.2,496.7 548.3,505.3 560,513 C571.7,520.7 589.3,532.2 600,539 C610.7,545.8 618,550.2 624,554 C630,557.8 633,560.1 636,561.5 C639,562.9 640.3,563.4 642,562.5 C643.7,561.6 645.3,560.1 646,556 C646.7,551.9 646,541 646,538" fill='none' stroke='#fff' stroke-width='19.1' stroke-linecap='butt' stroke-linejoin='round'/>
<path class="w" d="M462.6,561.5 C455,564.1 439.9,580.6 435.6,586 C431.3,591.4 435.6,591.7 437,594 C438.4,596.3 440.7,598.2 443.7,600 C446.7,601.8 450.6,603.7 455,605 C459.4,606.3 464.9,607.2 470,607.6 C475.1,608 482,608.4 485.6,607.6 C489.2,606.8 490.4,604.8 491.5,603 C492.6,601.2 494,602.4 492.3,597 C490.6,591.6 486.4,576.4 481.5,570.5 C476.6,564.6 470.2,558.9 462.6,561.5 Z" style="stroke-width:2"/>
<path class="s" d="M436,588 C436.8,589.5 438.3,594.5 441,597 C443.7,599.5 447.5,601.4 452,603 C456.5,604.6 462.3,605.9 468,606.5 C473.7,607.1 482.1,607.4 486,606.5 C489.9,605.6 490.6,601.9 491.5,601" stroke-width="3.1"/>
<path class="s" d="M438,591 C439,592.2 441.2,595.9 444,598 C446.8,600.1 450.7,602.2 455,603.5 C459.3,604.8 464.8,605.7 470,606 C475.2,606.3 483.3,605.6 486,605.5" stroke-width="1.9" stroke-dasharray="1.5 1.5" stroke="#666"/>
<ellipse class="w" cx="471.4" cy="565.2" rx="8.8" ry="4.4" transform="rotate(-5 471.4 565.2)" stroke-width="1.4"/>
<ellipse class="w" cx="493.8" cy="503" rx="5.5" ry="16" transform="rotate(27 493.8 503)" stroke-width="1.8"/>
<path class="w" d="M419.4,478 L425,472.5 L436,470 L443.7,471.3 L451.8,474 L482.9,522.6 L480.2,526 L441,482 L424,483.4 Z" />
<line class="s" x1="424" y1="477.5" x2="441" y2="475.5" stroke-width="2.9"/>
<line class="t" x1="445" y1="477" x2="479" y2="522" stroke-width="1.1"/>
<line class="t" x1="448" y1="475.5" x2="481" y2="520" stroke-width="1.1"/>
<line class="t" x1="430" y1="466" x2="430" y2="475" stroke-width="1.1"/>
<path class="w" d="M480.2,526 L490,527 L497,522.6 L536.9,440.2 L547,433.5 L554.4,430.1 L553,424.5 L545,422.5 L533,424.5 L528.8,430.8 L484,520 Z" />
<line class="t" x1="533" y1="432" x2="545" y2="427" stroke-width="1.1"/>
<line class="s" x1="546" y1="426" x2="551" y2="428" stroke-width="2.2"/>
<line class="t" x1="488" y1="521" x2="532" y2="434" stroke-width="1"/>
<path class="w" d="M628.5,503.5 C629.9,501.2 633.9,496.8 637.6,494.4 C641.4,492 646.3,490.4 651,489 C655.7,487.6 661.5,486.5 665.9,486.2 C670.3,485.9 675.4,486.3 677.6,487.4 C679.8,488.4 681.1,490.1 679,492.5 C676.9,494.9 669.5,499.2 665,501.5 C660.5,503.8 656.6,504.9 651.8,506.2 C647,507.4 639.7,508.6 636,509 C632.3,509.4 630.8,509.3 629.5,508.4 C628.2,507.5 627.1,505.8 628.5,503.5 Z" style="stroke-width:2"/>
<path class="s" d="M640,500 C640.5,498.5 644.7,495.4 648,494 C651.3,492.6 657.2,491.5 660,491.5 C662.8,491.5 665.7,492.5 665,494 C664.3,495.5 659.3,499 656,500.5 C652.7,502 647.7,503.1 645,503 C642.3,502.9 639.5,501.5 640,500 Z" stroke-width="1.7"/>
<line class="s" x1="631" y1="506.5" x2="666" y2="496" stroke-width="2.8"/>
<path class="w" d="M628.5,528 C629.7,525.2 632.2,518.8 636,516 C639.8,513.2 646,512.2 651,511 C656,509.8 661.4,508.8 666,508.5 C670.6,508.2 676.2,508.6 678.5,509.5 C680.8,510.4 680.2,511.9 679.8,514 C679.4,516.1 678.1,519.3 676,522 C673.9,524.7 671.2,528.2 667,530 C662.8,531.8 656,532.2 651,533 C646,533.8 640.7,534.5 637,534.5 C633.3,534.5 630.4,534.1 629,533 C627.6,531.9 627.3,530.8 628.5,528 Z" style="stroke-width:2"/>
<path class="s" d="M640,524 C640.3,522.5 644.7,519 648,517.5 C651.3,516 657,514.9 660,515 C663,515.1 666.5,516.5 666,518 C665.5,519.5 660.3,522.6 657,524 C653.7,525.4 648.8,526.5 646,526.5 C643.2,526.5 639.7,525.5 640,524 Z" stroke-width="1.7"/>
<path class="w" d="M629,533 L629.5,541.5 L636,542 L650,540 L667,533 Z" />
<line class="s" x1="634" y1="530" x2="663" y2="521" stroke-width="2.6"/>
<path class="s" d="M633,544 C633.7,544.3 636.5,544.8 637,546 C637.5,547.2 636.8,550 636,551 C635.2,552 632.7,551.8 632,552" stroke-width="1.6"/>
</g>
<g transform="translate(210.5,171.5)">
<path class="none" d="M471,568 C474.2,561.7 484.2,540.5 490,530 C495.8,519.5 501.5,511.5 506,505 C510.5,498.5 513,493 517,491 C521,489 522.8,489.3 530,493 C537.2,496.7 548.3,505.3 560,513 C571.7,520.7 589.3,532.2 600,539 C610.7,545.8 618,550.2 624,554 C630,557.8 633,560.1 636,561.5 C639,562.9 640.3,563.4 642,562.5 C643.7,561.6 645.3,560.1 646,556 C646.7,551.9 646,541 646,538" fill='none' stroke='#222' stroke-width='22.5' stroke-linecap='butt' stroke-linejoin='round'/>
<path class="none" d="M471,568 C474.2,561.7 484.2,540.5 490,530 C495.8,519.5 501.5,511.5 506,505 C510.5,498.5 513,493 517,491 C521,489 522.8,489.3 530,493 C537.2,496.7 548.3,505.3 560,513 C571.7,520.7 589.3,532.2 600,539 C610.7,545.8 618,550.2 624,554 C630,557.8 633,560.1 636,561.5 C639,562.9 640.3,563.4 642,562.5 C643.7,561.6 645.3,560.1 646,556 C646.7,551.9 646,541 646,538" fill='none' stroke='#fff' stroke-width='19.1' stroke-linecap='butt' stroke-linejoin='round'/>
<path class="w" d="M462.6,561.5 C455,564.1 439.9,580.6 435.6,586 C431.3,591.4 435.6,591.7 437,594 C438.4,596.3 440.7,598.2 443.7,600 C446.7,601.8 450.6,603.7 455,605 C459.4,606.3 464.9,607.2 470,607.6 C475.1,608 482,608.4 485.6,607.6 C489.2,606.8 490.4,604.8 491.5,603 C492.6,601.2 494,602.4 492.3,597 C490.6,591.6 486.4,576.4 481.5,570.5 C476.6,564.6 470.2,558.9 462.6,561.5 Z" style="stroke-width:2"/>
<path class="s" d="M436,588 C436.8,589.5 438.3,594.5 441,597 C443.7,599.5 447.5,601.4 452,603 C456.5,604.6 462.3,605.9 468,606.5 C473.7,607.1 482.1,607.4 486,606.5 C489.9,605.6 490.6,601.9 491.5,601" stroke-width="3.1"/>
<path class="s" d="M438,591 C439,592.2 441.2,595.9 444,598 C446.8,600.1 450.7,602.2 455,603.5 C459.3,604.8 464.8,605.7 470,606 C475.2,606.3 483.3,605.6 486,605.5" stroke-width="1.9" stroke-dasharray="1.5 1.5" stroke="#666"/>
<ellipse class="w" cx="471.4" cy="565.2" rx="8.8" ry="4.4" transform="rotate(-5 471.4 565.2)" stroke-width="1.4"/>
<ellipse class="w" cx="493.8" cy="503" rx="5.5" ry="16" transform="rotate(27 493.8 503)" stroke-width="1.8"/>
<path class="w" d="M419.4,478 L425,472.5 L436,470 L443.7,471.3 L451.8,474 L482.9,522.6 L480.2,526 L441,482 L424,483.4 Z" />
<line class="s" x1="424" y1="477.5" x2="441" y2="475.5" stroke-width="2.9"/>
<line class="t" x1="445" y1="477" x2="479" y2="522" stroke-width="1.1"/>
<line class="t" x1="448" y1="475.5" x2="481" y2="520" stroke-width="1.1"/>
<line class="t" x1="430" y1="466" x2="430" y2="475" stroke-width="1.1"/>
<path class="w" d="M480.2,526 L490,527 L497,522.6 L536.9,440.2 L547,433.5 L554.4,430.1 L553,424.5 L545,422.5 L533,424.5 L528.8,430.8 L484,520 Z" />
<line class="t" x1="533" y1="432" x2="545" y2="427" stroke-width="1.1"/>
<line class="s" x1="546" y1="426" x2="551" y2="428" stroke-width="2.2"/>
<line class="t" x1="488" y1="521" x2="532" y2="434" stroke-width="1"/>
<path class="w" d="M628.5,503.5 C629.9,501.2 633.9,496.8 637.6,494.4 C641.4,492 646.3,490.4 651,489 C655.7,487.6 661.5,486.5 665.9,486.2 C670.3,485.9 675.4,486.3 677.6,487.4 C679.8,488.4 681.1,490.1 679,492.5 C676.9,494.9 669.5,499.2 665,501.5 C660.5,503.8 656.6,504.9 651.8,506.2 C647,507.4 639.7,508.6 636,509 C632.3,509.4 630.8,509.3 629.5,508.4 C628.2,507.5 627.1,505.8 628.5,503.5 Z" style="stroke-width:2"/>
<path class="s" d="M640,500 C640.5,498.5 644.7,495.4 648,494 C651.3,492.6 657.2,491.5 660,491.5 C662.8,491.5 665.7,492.5 665,494 C664.3,495.5 659.3,499 656,500.5 C652.7,502 647.7,503.1 645,503 C642.3,502.9 639.5,501.5 640,500 Z" stroke-width="1.7"/>
<line class="s" x1="631" y1="506.5" x2="666" y2="496" stroke-width="2.8"/>
<path class="w" d="M628.5,528 C629.7,525.2 632.2,518.8 636,516 C639.8,513.2 646,512.2 651,511 C656,509.8 661.4,508.8 666,508.5 C670.6,508.2 676.2,508.6 678.5,509.5 C680.8,510.4 680.2,511.9 679.8,514 C679.4,516.1 678.1,519.3 676,522 C673.9,524.7 671.2,528.2 667,530 C662.8,531.8 656,532.2 651,533 C646,533.8 640.7,534.5 637,534.5 C633.3,534.5 630.4,534.1 629,533 C627.6,531.9 627.3,530.8 628.5,528 Z" style="stroke-width:2"/>
<path class="s" d="M640,524 C640.3,522.5 644.7,519 648,517.5 C651.3,516 657,514.9 660,515 C663,515.1 666.5,516.5 666,518 C665.5,519.5 660.3,522.6 657,524 C653.7,525.4 648.8,526.5 646,526.5 C643.2,526.5 639.7,525.5 640,524 Z" stroke-width="1.7"/>
<path class="w" d="M629,533 L629.5,541.5 L636,542 L650,540 L667,533 Z" />
<line class="s" x1="634" y1="530" x2="663" y2="521" stroke-width="2.6"/>
<path class="s" d="M633,544 C633.7,544.3 636.5,544.8 637,546 C637.5,547.2 636.8,550 636,551 C635.2,552 632.7,551.8 632,552" stroke-width="1.6"/>
</g>
<line class="lg" x1="673" y1="461.5" x2="673" y2="485" />
<line class="lg" x1="673" y1="508" x2="673" y2="513" />
<line class="lg" x1="673" y1="567.5" x2="673" y2="588.5" />
<line class="s" x1="883.5" y1="487.6" x2="883.5" y2="656" stroke-width="1.3"/>
<line class="ld" x1="883.5" y1="738" x2="883.5" y2="759.4" />
<line class="lg" x1="405.9" y1="521.5" x2="422.4" y2="521.5" />
<line class="ld" x1="603.5" y1="498" x2="628.2" y2="498" />
<line class="ld" x1="567" y1="534.4" x2="567" y2="552" />
<line class="lg" x1="615.3" y1="692.4" x2="633" y2="692.4" />
<line class="ld" x1="778.8" y1="705.3" x2="778.8" y2="724" />
<path class="w" d="M426.8,493 L434.8,493 L434.8,518.5 L426.8,518.5 Z" />
<ellipse class="w" cx="430.8" cy="493" rx="4" ry="1.6" stroke-width="1.4"/>
<line class="t" x1="430.3" y1="495.5" x2="434.3" y2="494.5" stroke-width="1.1"/>
<line class="t" x1="430.3" y1="498.1" x2="434.3" y2="497.1" stroke-width="1.1"/>
<line class="t" x1="430.3" y1="500.7" x2="434.3" y2="499.7" stroke-width="1.1"/>
<line class="t" x1="430.3" y1="503.3" x2="434.3" y2="502.3" stroke-width="1.1"/>
<line class="t" x1="430.3" y1="505.9" x2="434.3" y2="504.9" stroke-width="1.1"/>
<line class="t" x1="429.6" y1="494.5" x2="429.6" y2="518.5" stroke-width="1"/>
<ellipse class="w" cx="430.8" cy="519.5" rx="8.5" ry="3.2" stroke-width="1.8"/>
<path class="w" d="M423.8,520.5 L424.3,527.5 L427.8,529.5 L433.8,529.5 L437.3,527.5 L437.8,520.5 Z" />
<line class="t" x1="428.3" y1="522.5" x2="428.3" y2="529" stroke-width="1"/>
<line class="t" x1="433.3" y1="522.5" x2="433.3" y2="529" stroke-width="1"/>
<path class="w" d="M671.2,531 L679.2,531 L679.2,556.5 L671.2,556.5 Z" />
<ellipse class="w" cx="675.2" cy="531" rx="4" ry="1.6" stroke-width="1.4"/>
<line class="t" x1="674.7" y1="533.5" x2="678.7" y2="532.5" stroke-width="1.1"/>
<line class="t" x1="674.7" y1="536.1" x2="678.7" y2="535.1" stroke-width="1.1"/>
<line class="t" x1="674.7" y1="538.7" x2="678.7" y2="537.7" stroke-width="1.1"/>
<line class="t" x1="674.7" y1="541.3" x2="678.7" y2="540.3" stroke-width="1.1"/>
<line class="t" x1="674.7" y1="543.9" x2="678.7" y2="542.9" stroke-width="1.1"/>
<line class="t" x1="674" y1="532.5" x2="674" y2="556.5" stroke-width="1"/>
<ellipse class="w" cx="675.2" cy="557.5" rx="8.5" ry="3.2" stroke-width="1.8"/>
<path class="w" d="M668.2,558.5 L668.7,565.5 L672.2,567.5 L678.2,567.5 L681.7,565.5 L682.2,558.5 Z" />
<line class="t" x1="672.7" y1="560.5" x2="672.7" y2="567" stroke-width="1"/>
<line class="t" x1="677.7" y1="560.5" x2="677.7" y2="567" stroke-width="1"/>
<g transform="translate(210.5,171.5)">
<path class="w" d="M426.8,493 L434.8,493 L434.8,518.5 L426.8,518.5 Z" />
<ellipse class="w" cx="430.8" cy="493" rx="4" ry="1.6" stroke-width="1.4"/>
<line class="t" x1="430.3" y1="495.5" x2="434.3" y2="494.5" stroke-width="1.1"/>
<line class="t" x1="430.3" y1="498.1" x2="434.3" y2="497.1" stroke-width="1.1"/>
<line class="t" x1="430.3" y1="500.7" x2="434.3" y2="499.7" stroke-width="1.1"/>
<line class="t" x1="430.3" y1="503.3" x2="434.3" y2="502.3" stroke-width="1.1"/>
<line class="t" x1="430.3" y1="505.9" x2="434.3" y2="504.9" stroke-width="1.1"/>
<line class="t" x1="429.6" y1="494.5" x2="429.6" y2="518.5" stroke-width="1"/>
<ellipse class="w" cx="430.8" cy="519.5" rx="8.5" ry="3.2" stroke-width="1.8"/>
<path class="w" d="M423.8,520.5 L424.3,527.5 L427.8,529.5 L433.8,529.5 L437.3,527.5 L437.8,520.5 Z" />
<line class="t" x1="428.3" y1="522.5" x2="428.3" y2="529" stroke-width="1"/>
<line class="t" x1="433.3" y1="522.5" x2="433.3" y2="529" stroke-width="1"/>
<path class="w" d="M671.2,531 L679.2,531 L679.2,556.5 L671.2,556.5 Z" />
<ellipse class="w" cx="675.2" cy="531" rx="4" ry="1.6" stroke-width="1.4"/>
<line class="t" x1="674.7" y1="533.5" x2="678.7" y2="532.5" stroke-width="1.1"/>
<line class="t" x1="674.7" y1="536.1" x2="678.7" y2="535.1" stroke-width="1.1"/>
<line class="t" x1="674.7" y1="538.7" x2="678.7" y2="537.7" stroke-width="1.1"/>
<line class="t" x1="674.7" y1="541.3" x2="678.7" y2="540.3" stroke-width="1.1"/>
<line class="t" x1="674.7" y1="543.9" x2="678.7" y2="542.9" stroke-width="1.1"/>
<line class="t" x1="674" y1="532.5" x2="674" y2="556.5" stroke-width="1"/>
<ellipse class="w" cx="675.2" cy="557.5" rx="8.5" ry="3.2" stroke-width="1.8"/>
<path class="w" d="M668.2,558.5 L668.7,565.5 L672.2,567.5 L678.2,567.5 L681.7,565.5 L682.2,558.5 Z" />
<line class="t" x1="672.7" y1="560.5" x2="672.7" y2="567" stroke-width="1"/>
<line class="t" x1="677.7" y1="560.5" x2="677.7" y2="567" stroke-width="1"/>
</g>
<circle cx="790.7" cy="666" r="27.5" fill="#e3ebe5" style="mix-blend-mode:multiply"/>
<circle cx="790.7" cy="666" r="30.3" fill="none" stroke='#1f7a36' stroke-width='6.4'/>
<line class="ld" x1="815.3" y1="670" x2="838.8" y2="670" />
<path class="w" d="M950,719.4 L955.2,711.6 L968.4,707.6 L1000,715 L1060,750 L1110,780 L1100,790 L1088,780 L1082.8,785.2 L1073.6,789.1 L1069.6,795.7 L1056.5,802.3 L1036.8,806.2 L1017,802.3 L1006.5,793.1 L1001.9,785.2 L1003.9,761.5 L997.3,757.6 L994.7,753.6 L977.6,751 L963.1,748.4 L961.8,735.2 L952,730 Z" />
<ellipse class="w" cx="1036.5" cy="786" rx="34" ry="14" stroke-width="1.9"/>
<path class="s" d="M1070.5,786 C1070.5,786.2 1070.4,787 1070.3,787.5 C1070.2,787.9 1070,788.4 1069.8,788.9 C1069.5,789.4 1069.2,789.9 1068.8,790.3 C1068.5,790.8 1068,791.2 1067.6,791.7 C1067.1,792.1 1066.5,792.6 1065.9,793 C1065.4,793.4 1064.7,793.8 1064,794.2 C1063.3,794.6 1062.6,795 1061.8,795.4 C1061,795.7 1060.1,796.1 1059.3,796.4 C1058.4,796.7 1057.4,797 1056.5,797.3 C1055.5,797.6 1054.5,797.9 1053.5,798.1 C1052.5,798.4 1051.4,798.6 1050.3,798.8 C1049.2,799 1048.1,799.2 1047,799.3 C1045.9,799.5 1044.7,799.6 1043.6,799.7 C1042.4,799.8 1041.2,799.9 1040.1,799.9 C1038.9,800 1037.7,800 1036.5,800 C1035.3,800 1034.1,800 1032.9,799.9 C1031.8,799.9 1030.6,799.8 1029.4,799.7 C1028.3,799.6 1027.1,799.5 1026,799.3 C1024.9,799.2 1023.8,799 1022.7,798.8 C1021.6,798.6 1020.5,798.4 1019.5,798.1 C1018.5,797.9 1017.5,797.6 1016.5,797.3 C1015.6,797 1014.6,796.7 1013.7,796.4 C1012.9,796.1 1012,795.7 1011.2,795.4 C1010.4,795 1009.7,794.6 1009,794.2 C1008.3,793.8 1007.6,793.4 1007.1,793 C1006.5,792.6 1005.9,792.1 1005.4,791.7 C1005,791.2 1004.5,790.8 1004.2,790.3 C1003.8,789.9 1003.5,789.4 1003.2,788.9 C1003,788.4 1002.8,787.9 1002.7,787.5 C1002.6,787 1002.5,786.2 1002.5,786" stroke-width="1.8"/>
<path class="s" d="M1069.4,791.4 C1069.3,791.6 1069.1,792.4 1068.9,792.9 C1068.7,793.4 1068.5,793.9 1068.2,794.4 C1067.9,794.8 1067.5,795.3 1067.1,795.8 C1066.7,796.3 1066.2,796.7 1065.7,797.2 C1065.2,797.6 1064.7,798.1 1064.1,798.5 C1063.5,798.9 1062.8,799.4 1062.1,799.8 C1061.5,800.2 1060.7,800.5 1060,800.9 C1059.2,801.3 1058.4,801.6 1057.6,801.9 C1056.7,802.3 1055.9,802.6 1055,802.9 C1054.1,803.1 1053.1,803.4 1052.2,803.6 C1051.2,803.9 1050.2,804.1 1049.2,804.3 C1048.2,804.5 1047.2,804.7 1046.1,804.8 C1045.1,805 1044.1,805.1 1043,805.2 C1041.9,805.3 1040.8,805.4 1039.8,805.4 C1038.7,805.5 1037.6,805.5 1036.5,805.5 C1035.4,805.5 1034.3,805.5 1033.2,805.4 C1032.2,805.4 1031.1,805.3 1030,805.2 C1028.9,805.1 1027.9,805 1026.9,804.8 C1025.8,804.7 1024.8,804.5 1023.8,804.3 C1022.8,804.1 1021.8,803.9 1020.8,803.6 C1019.9,803.4 1018.9,803.1 1018,802.9 C1017.1,802.6 1016.3,802.3 1015.4,801.9 C1014.6,801.6 1013.8,801.3 1013,800.9 C1012.3,800.5 1011.5,800.2 1010.9,799.8 C1010.2,799.4 1009.5,798.9 1008.9,798.5 C1008.3,798.1 1007.8,797.6 1007.3,797.2 C1006.8,796.7 1006.3,796.3 1005.9,795.8 C1005.5,795.3 1005.1,794.8 1004.8,794.4 C1004.5,793.9 1004.3,793.4 1004.1,792.9 C1003.9,792.4 1003.7,791.6 1003.6,791.4" stroke-width="1.8"/>
<path class="s" d="M1068.5,795.3 C1068.4,795.5 1068.1,796 1067.8,796.4 C1067.6,796.8 1067.3,797.2 1066.9,797.6 C1066.6,798 1066.2,798.3 1065.7,798.7 C1065.3,799.1 1064.8,799.4 1064.3,799.8 C1063.7,800.1 1063.2,800.4 1062.6,800.8 C1062,801.1 1061.3,801.4 1060.7,801.7 C1060,802 1059.3,802.3 1058.5,802.6 C1057.8,802.8 1057,803.1 1056.2,803.3 C1055.4,803.6 1054.6,803.8 1053.7,804 C1052.9,804.2 1052,804.4 1051.1,804.6 C1050.2,804.8 1049.3,805 1048.3,805.1 C1047.4,805.3 1046.4,805.4 1045.5,805.5 C1044.5,805.6 1043.5,805.7 1042.5,805.8 C1041.5,805.8 1040.5,805.9 1039.5,805.9 C1038.5,806 1037.5,806 1036.5,806 C1035.5,806 1034.5,806 1033.5,805.9 C1032.5,805.9 1031.5,805.8 1030.5,805.8 C1029.5,805.7 1028.5,805.6 1027.5,805.5 C1026.6,805.4 1025.6,805.3 1024.7,805.1 C1023.7,805 1022.8,804.8 1021.9,804.6 C1021,804.4 1020.1,804.2 1019.3,804 C1018.4,803.8 1017.6,803.6 1016.8,803.3 C1016,803.1 1015.2,802.8 1014.5,802.6 C1013.7,802.3 1013,802 1012.3,801.7 C1011.7,801.4 1011,801.1 1010.4,800.8 C1009.8,800.4 1009.3,800.1 1008.7,799.8 C1008.2,799.4 1007.7,799.1 1007.3,798.7 C1006.8,798.3 1006.4,798 1006.1,797.6 C1005.7,797.2 1005.4,796.8 1005.2,796.4 C1004.9,796 1004.6,795.5 1004.5,795.3" stroke-width="1.9"/>
<path class="w" d="M1008,776 L1010,768 L1022,764 L1052,760 L1062,768 L1064,782 Z" />
<path class="w" d="M1082,770 L1100,760 L1112,770 L1113,800 L1100,808 L1086,806 L1079,796 Z" />
<line class="s" x1="975" y1="709" x2="976" y2="725" stroke-width="1.4"/>
<path class="s" d="M980,718 L992,722" stroke-width="1.3"/>
<path class="s" d="M1010,764 C1011.3,762.3 1014.3,756.5 1018,754 C1021.7,751.5 1027.3,749.3 1032,749 C1036.7,748.7 1042.7,750.5 1046,752 C1049.3,753.5 1051,757 1052,758" stroke-width="1.6"/>
<path class="s" d="M1008,771 C1010.3,769.7 1016.7,764.3 1022,763 C1027.3,761.7 1034.3,761.8 1040,763 C1045.7,764.2 1053.3,768.8 1056,770" stroke-width="1.4"/>
<path class="s" d="M1012,735 L1028,744 L1040,752" stroke-width="1.3"/>
<path class="s" d="M1060,745 L1064,760 L1072,772" stroke-width="1.3"/>
<ellipse class="w" cx="958.5" cy="722" rx="6.4" ry="7.5" transform="rotate(15 958.5 722)" stroke-width="1.9"/>
<ellipse class="w" cx="959" cy="722.3" rx="3.8" ry="4.5" transform="rotate(15 959 722.3)" stroke-width="1.7"/>
<ellipse class="none" cx="959" cy="722.3" rx="2.4" ry="3" transform="rotate(15 959 722.3)" fill="#777" stroke="none"/>
<ellipse class="w" cx="998" cy="726" rx="6" ry="7" transform="rotate(15 998 726)" stroke-width="1.9"/>
<ellipse class="w" cx="998.5" cy="726.3" rx="3.5" ry="4.2" transform="rotate(15 998.5 726.3)" stroke-width="1.7"/>
<ellipse class="none" cx="998.5" cy="726.3" rx="2.2" ry="2.8" transform="rotate(15 998.5 726.3)" fill="#777" stroke="none"/>
<ellipse class="w" cx="1001.3" cy="747.7" rx="6.4" ry="7.5" transform="rotate(15 1001.3 747.7)" stroke-width="1.9"/>
<ellipse class="w" cx="1001.8" cy="748" rx="3.8" ry="4.5" transform="rotate(15 1001.8 748)" stroke-width="1.7"/>
<ellipse class="none" cx="1001.8" cy="748" rx="2.4" ry="3" transform="rotate(15 1001.8 748)" fill="#777" stroke="none"/>
<ellipse class="w" cx="1021" cy="738.5" rx="5.5" ry="6.5" transform="rotate(15 1021 738.5)" stroke-width="1.9"/>
<ellipse class="w" cx="1021.5" cy="738.8" rx="3.2" ry="3.9" transform="rotate(15 1021.5 738.8)" stroke-width="1.7"/>
<ellipse class="none" cx="1021.5" cy="738.8" rx="2.1" ry="2.6" transform="rotate(15 1021.5 738.8)" fill="#777" stroke="none"/>
<ellipse class="w" cx="1009.2" cy="774" rx="6.4" ry="7.5" transform="rotate(15 1009.2 774)" stroke-width="1.9"/>
<ellipse class="w" cx="1009.7" cy="774.3" rx="3.8" ry="4.5" transform="rotate(15 1009.7 774.3)" stroke-width="1.7"/>
<ellipse class="none" cx="1009.7" cy="774.3" rx="2.4" ry="3" transform="rotate(15 1009.7 774.3)" fill="#777" stroke="none"/>
<ellipse class="w" cx="1032.8" cy="778.6" rx="5.5" ry="6.5" transform="rotate(15 1032.8 778.6)" stroke-width="1.9"/>
<ellipse class="w" cx="1033.3" cy="778.9" rx="3.2" ry="3.9" transform="rotate(15 1033.3 778.9)" stroke-width="1.7"/>
<ellipse class="none" cx="1033.3" cy="778.9" rx="2.1" ry="2.6" transform="rotate(15 1033.3 778.9)" fill="#777" stroke="none"/>
<ellipse class="w" cx="1051.2" cy="758.9" rx="6" ry="7" transform="rotate(15 1051.2 758.9)" stroke-width="1.9"/>
<ellipse class="w" cx="1051.7" cy="759.2" rx="3.5" ry="4.2" transform="rotate(15 1051.7 759.2)" stroke-width="1.7"/>
<ellipse class="none" cx="1051.7" cy="759.2" rx="2.2" ry="2.8" transform="rotate(15 1051.7 759.2)" fill="#777" stroke="none"/>
<ellipse class="w" cx="1077.5" cy="796.4" rx="6.4" ry="7.5" transform="rotate(15 1077.5 796.4)" stroke-width="1.9"/>
<ellipse class="w" cx="1078" cy="796.7" rx="3.8" ry="4.5" transform="rotate(15 1078 796.7)" stroke-width="1.7"/>
<ellipse class="none" cx="1078" cy="796.7" rx="2.4" ry="3" transform="rotate(15 1078 796.7)" fill="#777" stroke="none"/>
<path class="w" d="M1113,697 L1187,672 L1190,680 L1190,760 L1186,766 L1113,790 Z" />
<line class="s" x1="1176" y1="681" x2="1176" y2="763" stroke-width="1.4"/>
<line class="s" x1="1183" y1="678" x2="1183" y2="765" stroke-width="1.2"/>
<line x1="1149" y1="719" x2="1169" y2="710" stroke='#222' stroke-width='25' stroke-linecap='round'/>
<line x1="1149" y1="719" x2="1169" y2="710" stroke='#fff' stroke-width='21' stroke-linecap='round'/>
<ellipse class="w" cx="1149" cy="719" rx="8.5" ry="11" transform="rotate(10 1149 719)" stroke-width="1.9"/>
<ellipse class="w" cx="1149" cy="719" rx="5.5" ry="6.5" transform="rotate(15 1149 719)" stroke-width="1.9"/>
<ellipse class="w" cx="1149.5" cy="719.3" rx="3.2" ry="3.9" transform="rotate(15 1149.5 719.3)" stroke-width="1.7"/>
<ellipse class="none" cx="1149.5" cy="719.3" rx="2.1" ry="2.6" transform="rotate(15 1149.5 719.3)" fill="#777" stroke="none"/>
<line x1="1149" y1="768" x2="1169" y2="759" stroke='#222' stroke-width='25' stroke-linecap='round'/>
<line x1="1149" y1="768" x2="1169" y2="759" stroke='#fff' stroke-width='21' stroke-linecap='round'/>
<ellipse class="w" cx="1149" cy="768" rx="8.5" ry="11" transform="rotate(10 1149 768)" stroke-width="1.9"/>
<ellipse class="w" cx="1149" cy="768" rx="5.5" ry="6.5" transform="rotate(15 1149 768)" stroke-width="1.9"/>
<ellipse class="w" cx="1149.5" cy="768.3" rx="3.2" ry="3.9" transform="rotate(15 1149.5 768.3)" stroke-width="1.7"/>
<ellipse class="none" cx="1149.5" cy="768.3" rx="2.1" ry="2.6" transform="rotate(15 1149.5 768.3)" fill="#777" stroke="none"/>
<path class="s" d="M1114,733 C1116.7,733.7 1124,737 1130,737 C1136,737 1143.3,735.2 1150,733 C1156.7,730.8 1164.3,726.8 1170,724 C1175.7,721.2 1181.7,717.3 1184,716" stroke-width="1.6"/>
<path class="s" d="M1114,783 C1117.5,783.3 1127.3,786 1135,785 C1142.7,784 1151.8,780.3 1160,777 C1168.2,773.7 1180,767 1184,765" stroke-width="1.6"/>
<path class="w" d="M938.5,579.3 L945,570 L983,548.1 L989.4,547.1 L1187,672 L1113,697 L958.2,605.2 L955,600 Z" />
<line class="s" x1="992" y1="553" x2="1176" y2="672" stroke-width="1.3"/>
<line x1="992" y1="612.5" x2="1028" y2="589.5" stroke='#222' stroke-width='21.4' stroke-linecap='round'/>
<line x1="992" y1="612.5" x2="1028" y2="589.5" stroke='#fff' stroke-width='17.4' stroke-linecap='round'/>
<ellipse class="w" cx="992" cy="612.5" rx="9" ry="10.5" transform="rotate(10 992 612.5)" stroke-width="1.9"/>
<ellipse class="w" cx="992" cy="613.5" rx="5.4" ry="6.3" transform="rotate(15 992 613.5)" stroke-width="1.9"/>
<ellipse class="w" cx="992.5" cy="613.8" rx="3.1" ry="3.8" transform="rotate(15 992.5 613.8)" stroke-width="1.7"/>
<ellipse class="none" cx="992.5" cy="613.8" rx="2" ry="2.5" transform="rotate(15 992.5 613.8)" fill="#777" stroke="none"/>
<line x1="1033" y1="636.5" x2="1069" y2="613.5" stroke='#222' stroke-width='21.4' stroke-linecap='round'/>
<line x1="1033" y1="636.5" x2="1069" y2="613.5" stroke='#fff' stroke-width='17.4' stroke-linecap='round'/>
<ellipse class="w" cx="1033" cy="636.5" rx="9" ry="10.5" transform="rotate(10 1033 636.5)" stroke-width="1.9"/>
<ellipse class="w" cx="1033" cy="637.5" rx="5.4" ry="6.3" transform="rotate(15 1033 637.5)" stroke-width="1.9"/>
<ellipse class="w" cx="1033.5" cy="637.8" rx="3.1" ry="3.8" transform="rotate(15 1033.5 637.8)" stroke-width="1.7"/>
<ellipse class="none" cx="1033.5" cy="637.8" rx="2" ry="2.5" transform="rotate(15 1033.5 637.8)" fill="#777" stroke="none"/>
<line x1="1076" y1="662.5" x2="1112" y2="639.5" stroke='#222' stroke-width='21.4' stroke-linecap='round'/>
<line x1="1076" y1="662.5" x2="1112" y2="639.5" stroke='#fff' stroke-width='17.4' stroke-linecap='round'/>
<ellipse class="w" cx="1076" cy="662.5" rx="9" ry="10.5" transform="rotate(10 1076 662.5)" stroke-width="1.9"/>
<ellipse class="w" cx="1076" cy="663.5" rx="5.4" ry="6.3" transform="rotate(15 1076 663.5)" stroke-width="1.9"/>
<ellipse class="w" cx="1076.5" cy="663.8" rx="3.1" ry="3.8" transform="rotate(15 1076.5 663.8)" stroke-width="1.7"/>
<ellipse class="none" cx="1076.5" cy="663.8" rx="2" ry="2.5" transform="rotate(15 1076.5 663.8)" fill="#777" stroke="none"/>
<line x1="1110.4" y1="685" x2="1146.4" y2="662" stroke='#222' stroke-width='21.4' stroke-linecap='round'/>
<line x1="1110.4" y1="685" x2="1146.4" y2="662" stroke='#fff' stroke-width='17.4' stroke-linecap='round'/>
<ellipse class="w" cx="1110.4" cy="685" rx="9" ry="10.5" transform="rotate(10 1110.4 685)" stroke-width="1.9"/>
<ellipse class="w" cx="1110.4" cy="686" rx="5.4" ry="6.3" transform="rotate(15 1110.4 686)" stroke-width="1.9"/>
<ellipse class="w" cx="1110.9" cy="686.3" rx="3.1" ry="3.8" transform="rotate(15 1110.9 686.3)" stroke-width="1.7"/>
<ellipse class="none" cx="1110.9" cy="686.3" rx="2" ry="2.5" transform="rotate(15 1110.9 686.3)" fill="#777" stroke="none"/>
<path class="w" d="M958.2,605.2 L1113,697 L1113,790 L958.2,698.3 Z" />
<line class="s" x1="958.2" y1="611.2" x2="1113" y2="703" stroke-width="1.4"/>
<line class="s" x1="958.2" y1="627.2" x2="1113" y2="719" stroke-width="1.7"/>
<line class="s" x1="958.2" y1="634.2" x2="1113" y2="726" stroke-width="1.4"/>
<line class="s" x1="958.2" y1="638.2" x2="1113" y2="730" stroke-width="1.4"/>
<line class="s" x1="958.2" y1="665.2" x2="1113" y2="757" stroke-width="1.7"/>
<line class="s" x1="958.2" y1="671.2" x2="1113" y2="763" stroke-width="1.4"/>
<line class="s" x1="958.2" y1="688.2" x2="1113" y2="780" stroke-width="1.7"/>
<line class="t" x1="960" y1="612.3" x2="962.2" y2="619.1" stroke-width="0.8" stroke="#555"/>
<line class="t" x1="963" y1="614" x2="965.2" y2="620.8" stroke-width="0.8" stroke="#555"/>
<line class="t" x1="966" y1="615.8" x2="968.2" y2="622.6" stroke-width="0.8" stroke="#555"/>
<line class="t" x1="969" y1="617.6" x2="971.2" y2="624.4" stroke-width="0.8" stroke="#555"/>
<line class="t" x1="972" y1="619.3" x2="974.2" y2="626.1" stroke-width="0.8" stroke="#555"/>
<line class="t" x1="975" y1="621.1" x2="977.2" y2="627.9" stroke-width="0.8" stroke="#555"/>
<line class="t" x1="978" y1="622.9" x2="980.2" y2="629.7" stroke-width="0.8" stroke="#555"/>
<line class="t" x1="981" y1="624.7" x2="983.2" y2="631.5" stroke-width="0.8" stroke="#555"/>
<line class="t" x1="984" y1="626.4" x2="986.2" y2="633.2" stroke-width="0.8" stroke="#555"/>
<line class="t" x1="987" y1="628.2" x2="989.2" y2="635" stroke-width="0.8" stroke="#555"/>
<line class="t" x1="990" y1="630" x2="992.2" y2="636.8" stroke-width="0.8" stroke="#555"/>
<line class="t" x1="993" y1="631.7" x2="995.2" y2="638.5" stroke-width="0.8" stroke="#555"/>
<line class="t" x1="996" y1="633.5" x2="998.2" y2="640.3" stroke-width="0.8" stroke="#555"/>
<line class="t" x1="999" y1="635.3" x2="1001.2" y2="642.1" stroke-width="0.8" stroke="#555"/>
<line class="t" x1="1002" y1="637" x2="1004.2" y2="643.8" stroke-width="0.8" stroke="#555"/>
<line class="t" x1="1005" y1="638.8" x2="1007.2" y2="645.6" stroke-width="0.8" stroke="#555"/>
<line class="t" x1="1008" y1="640.6" x2="1010.2" y2="647.4" stroke-width="0.8" stroke="#555"/>
<line class="t" x1="1011" y1="642.4" x2="1013.2" y2="649.2" stroke-width="0.8" stroke="#555"/>
<line class="t" x1="1014" y1="644.1" x2="1016.2" y2="650.9" stroke-width="0.8" stroke="#555"/>
<line class="t" x1="1017" y1="645.9" x2="1019.2" y2="652.7" stroke-width="0.8" stroke="#555"/>
<line class="t" x1="1020" y1="647.7" x2="1022.2" y2="654.5" stroke-width="0.8" stroke="#555"/>
<line class="t" x1="1023" y1="649.4" x2="1025.2" y2="656.2" stroke-width="0.8" stroke="#555"/>
<line class="t" x1="1026" y1="651.2" x2="1028.2" y2="658" stroke-width="0.8" stroke="#555"/>
<line class="t" x1="1029" y1="653" x2="1031.2" y2="659.8" stroke-width="0.8" stroke="#555"/>
<line class="t" x1="1032" y1="654.7" x2="1034.2" y2="661.5" stroke-width="0.8" stroke="#555"/>
<line class="t" x1="1035" y1="656.5" x2="1037.2" y2="663.3" stroke-width="0.8" stroke="#555"/>
<line class="t" x1="1038" y1="658.3" x2="1040.2" y2="665.1" stroke-width="0.8" stroke="#555"/>
<line class="t" x1="1041" y1="660.1" x2="1043.2" y2="666.9" stroke-width="0.8" stroke="#555"/>
<line class="t" x1="1044" y1="661.8" x2="1046.2" y2="668.6" stroke-width="0.8" stroke="#555"/>
<line class="t" x1="1047" y1="663.6" x2="1049.2" y2="670.4" stroke-width="0.8" stroke="#555"/>
<line class="t" x1="1050" y1="665.4" x2="1052.2" y2="672.2" stroke-width="0.8" stroke="#555"/>
<line class="t" x1="1053" y1="667.1" x2="1055.2" y2="673.9" stroke-width="0.8" stroke="#555"/>
<line class="t" x1="1056" y1="668.9" x2="1058.2" y2="675.7" stroke-width="0.8" stroke="#555"/>
<line class="t" x1="1059" y1="670.7" x2="1061.2" y2="677.5" stroke-width="0.8" stroke="#555"/>
<line class="t" x1="1062" y1="672.4" x2="1064.2" y2="679.2" stroke-width="0.8" stroke="#555"/>
<line class="t" x1="1065" y1="674.2" x2="1067.2" y2="681" stroke-width="0.8" stroke="#555"/>
<line class="t" x1="1068" y1="676" x2="1070.2" y2="682.8" stroke-width="0.8" stroke="#555"/>
<line class="t" x1="1071" y1="677.8" x2="1073.2" y2="684.6" stroke-width="0.8" stroke="#555"/>
<line class="t" x1="1074" y1="679.5" x2="1076.2" y2="686.3" stroke-width="0.8" stroke="#555"/>
<line class="t" x1="1077" y1="681.3" x2="1079.2" y2="688.1" stroke-width="0.8" stroke="#555"/>
<line class="t" x1="1080" y1="683.1" x2="1082.2" y2="689.9" stroke-width="0.8" stroke="#555"/>
<line class="t" x1="1083" y1="684.8" x2="1085.2" y2="691.6" stroke-width="0.8" stroke="#555"/>
<line class="t" x1="1086" y1="686.6" x2="1088.2" y2="693.4" stroke-width="0.8" stroke="#555"/>
<line class="t" x1="1089" y1="688.4" x2="1091.2" y2="695.2" stroke-width="0.8" stroke="#555"/>
<line class="t" x1="1092" y1="690.1" x2="1094.2" y2="696.9" stroke-width="0.8" stroke="#555"/>
<line class="t" x1="1095" y1="691.9" x2="1097.2" y2="698.7" stroke-width="0.8" stroke="#555"/>
<line class="t" x1="1098" y1="693.7" x2="1100.2" y2="700.5" stroke-width="0.8" stroke="#555"/>
<line class="t" x1="1101" y1="695.5" x2="1103.2" y2="702.3" stroke-width="0.8" stroke="#555"/>
<line class="t" x1="1104" y1="697.2" x2="1106.2" y2="704" stroke-width="0.8" stroke="#555"/>
<line class="t" x1="1107" y1="699" x2="1109.2" y2="705.8" stroke-width="0.8" stroke="#555"/>
<line class="t" x1="960" y1="640.1" x2="962.2" y2="646.1" stroke-width="0.8" stroke="#555"/>
<line class="t" x1="963" y1="641.8" x2="965.2" y2="647.8" stroke-width="0.8" stroke="#555"/>
<line class="t" x1="966" y1="643.6" x2="968.2" y2="649.6" stroke-width="0.8" stroke="#555"/>
<line class="t" x1="969" y1="645.4" x2="971.2" y2="651.4" stroke-width="0.8" stroke="#555"/>
<line class="t" x1="972" y1="647.1" x2="974.2" y2="653.1" stroke-width="0.8" stroke="#555"/>
<line class="t" x1="975" y1="648.9" x2="977.2" y2="654.9" stroke-width="0.8" stroke="#555"/>
<line class="t" x1="978" y1="650.7" x2="980.2" y2="656.7" stroke-width="0.8" stroke="#555"/>
<line class="t" x1="981" y1="652.5" x2="983.2" y2="658.5" stroke-width="0.8" stroke="#555"/>
<line class="t" x1="984" y1="654.2" x2="986.2" y2="660.2" stroke-width="0.8" stroke="#555"/>
<line class="t" x1="987" y1="656" x2="989.2" y2="662" stroke-width="0.8" stroke="#555"/>
<line class="t" x1="990" y1="657.8" x2="992.2" y2="663.8" stroke-width="0.8" stroke="#555"/>
<line class="t" x1="993" y1="659.5" x2="995.2" y2="665.5" stroke-width="0.8" stroke="#555"/>
<line class="t" x1="996" y1="661.3" x2="998.2" y2="667.3" stroke-width="0.8" stroke="#555"/>
<line class="t" x1="999" y1="663.1" x2="1001.2" y2="669.1" stroke-width="0.8" stroke="#555"/>
<line class="t" x1="1002" y1="664.8" x2="1004.2" y2="670.8" stroke-width="0.8" stroke="#555"/>
<line class="t" x1="1005" y1="666.6" x2="1007.2" y2="672.6" stroke-width="0.8" stroke="#555"/>
<line class="t" x1="1008" y1="668.4" x2="1010.2" y2="674.4" stroke-width="0.8" stroke="#555"/>
<line class="t" x1="1011" y1="670.2" x2="1013.2" y2="676.2" stroke-width="0.8" stroke="#555"/>
<line class="t" x1="1014" y1="671.9" x2="1016.2" y2="677.9" stroke-width="0.8" stroke="#555"/>
<line class="t" x1="1017" y1="673.7" x2="1019.2" y2="679.7" stroke-width="0.8" stroke="#555"/>
<line class="t" x1="1020" y1="675.5" x2="1022.2" y2="681.5" stroke-width="0.8" stroke="#555"/>
<line class="t" x1="1023" y1="677.2" x2="1025.2" y2="683.2" stroke-width="0.8" stroke="#555"/>
<line class="t" x1="1026" y1="679" x2="1028.2" y2="685" stroke-width="0.8" stroke="#555"/>
<line class="t" x1="1029" y1="680.8" x2="1031.2" y2="686.8" stroke-width="0.8" stroke="#555"/>
<line class="t" x1="1032" y1="682.5" x2="1034.2" y2="688.5" stroke-width="0.8" stroke="#555"/>
<line class="t" x1="1035" y1="684.3" x2="1037.2" y2="690.3" stroke-width="0.8" stroke="#555"/>
<line class="t" x1="1038" y1="686.1" x2="1040.2" y2="692.1" stroke-width="0.8" stroke="#555"/>
<line class="t" x1="1041" y1="687.9" x2="1043.2" y2="693.9" stroke-width="0.8" stroke="#555"/>
<line class="t" x1="1044" y1="689.6" x2="1046.2" y2="695.6" stroke-width="0.8" stroke="#555"/>
<line class="t" x1="1047" y1="691.4" x2="1049.2" y2="697.4" stroke-width="0.8" stroke="#555"/>
<line class="t" x1="1050" y1="693.2" x2="1052.2" y2="699.2" stroke-width="0.8" stroke="#555"/>
<line class="t" x1="1053" y1="694.9" x2="1055.2" y2="700.9" stroke-width="0.8" stroke="#555"/>
<line class="t" x1="1056" y1="696.7" x2="1058.2" y2="702.7" stroke-width="0.8" stroke="#555"/>
<line class="t" x1="1059" y1="698.5" x2="1061.2" y2="704.5" stroke-width="0.8" stroke="#555"/>
<line class="t" x1="1062" y1="700.2" x2="1064.2" y2="706.2" stroke-width="0.8" stroke="#555"/>
<line class="t" x1="1065" y1="702" x2="1067.2" y2="708" stroke-width="0.8" stroke="#555"/>
<line class="t" x1="1068" y1="703.8" x2="1070.2" y2="709.8" stroke-width="0.8" stroke="#555"/>
<line class="t" x1="1071" y1="705.6" x2="1073.2" y2="711.6" stroke-width="0.8" stroke="#555"/>
<line class="t" x1="1074" y1="707.3" x2="1076.2" y2="713.3" stroke-width="0.8" stroke="#555"/>
<line class="t" x1="1077" y1="709.1" x2="1079.2" y2="715.1" stroke-width="0.8" stroke="#555"/>
<line class="t" x1="1080" y1="710.9" x2="1082.2" y2="716.9" stroke-width="0.8" stroke="#555"/>
<line class="t" x1="1083" y1="712.6" x2="1085.2" y2="718.6" stroke-width="0.8" stroke="#555"/>
<line class="t" x1="1086" y1="714.4" x2="1088.2" y2="720.4" stroke-width="0.8" stroke="#555"/>
<line class="t" x1="1089" y1="716.2" x2="1091.2" y2="722.2" stroke-width="0.8" stroke="#555"/>
<line class="t" x1="1092" y1="717.9" x2="1094.2" y2="723.9" stroke-width="0.8" stroke="#555"/>
<line class="t" x1="1095" y1="719.7" x2="1097.2" y2="725.7" stroke-width="0.8" stroke="#555"/>
<line class="t" x1="1098" y1="721.5" x2="1100.2" y2="727.5" stroke-width="0.8" stroke="#555"/>
<line class="t" x1="1101" y1="723.3" x2="1103.2" y2="729.3" stroke-width="0.8" stroke="#555"/>
<line class="t" x1="1104" y1="725" x2="1106.2" y2="731" stroke-width="0.8" stroke="#555"/>
<line class="t" x1="1107" y1="726.8" x2="1109.2" y2="732.8" stroke-width="0.8" stroke="#555"/>
<line class="s" x1="958.2" y1="605" x2="958.2" y2="700" stroke-width="2.4"/>
<line class="s" x1="1113" y1="697" x2="1113" y2="790" stroke-width="2.4"/>
<path class="w" d="M958,606 C956.7,607 952.2,608.8 950,612 C947.8,615.2 946.5,620.3 945,625 C943.5,629.7 941.8,635 941,640 C940.2,645 939.8,650.3 940,655 C940.2,659.7 940.7,664.5 942,668 C943.3,671.5 945.7,674 948,676 C950.3,678 954.7,679.3 956,680" />
<ellipse class="w" cx="946.8" cy="616.6" rx="4.2" ry="5" transform="rotate(15 946.8 616.6)" stroke-width="1.9"/>
<ellipse class="w" cx="947.3" cy="616.9" rx="2.5" ry="3" transform="rotate(15 947.3 616.9)" stroke-width="1.7"/>
<ellipse class="none" cx="947.3" cy="616.9" rx="1.6" ry="2" transform="rotate(15 947.3 616.9)" fill="#777" stroke="none"/>
<ellipse class="w" cx="947.3" cy="646.2" rx="4.2" ry="5" transform="rotate(15 947.3 646.2)" stroke-width="1.9"/>
<ellipse class="w" cx="947.8" cy="646.5" rx="2.5" ry="3" transform="rotate(15 947.8 646.5)" stroke-width="1.7"/>
<ellipse class="none" cx="947.8" cy="646.5" rx="1.6" ry="2" transform="rotate(15 947.8 646.5)" fill="#777" stroke="none"/>
<ellipse class="w" cx="946.3" cy="666.5" rx="5.5" ry="6.5" transform="rotate(15 946.3 666.5)" stroke-width="1.9"/>
<ellipse class="w" cx="946.8" cy="666.8" rx="3.2" ry="3.9" transform="rotate(15 946.8 666.8)" stroke-width="1.7"/>
<ellipse class="none" cx="946.8" cy="666.8" rx="2.1" ry="2.6" transform="rotate(15 946.8 666.8)" fill="#777" stroke="none"/>
<ellipse class="w" cx="947.3" cy="632.2" rx="5" ry="6.5" transform="rotate(10 947.3 632.2)" stroke-width="1.8"/>
<ellipse class="w" cx="945.4" cy="584.3" rx="5.5" ry="6.5" transform="rotate(15 945.4 584.3)" stroke-width="1.9"/>
<ellipse class="w" cx="945.9" cy="584.6" rx="3.2" ry="3.9" transform="rotate(15 945.9 584.6)" stroke-width="1.7"/>
<ellipse class="none" cx="945.9" cy="584.6" rx="2.1" ry="2.6" transform="rotate(15 945.9 584.6)" fill="#777" stroke="none"/>
<ellipse class="w" cx="978" cy="580.8" rx="8" ry="5" transform="rotate(-10 978 580.8)" stroke-width="2.2"/>
<ellipse class="s" cx="978" cy="580.8" rx="4.5" ry="2.8" transform="rotate(-10 978 580.8)" stroke-width="1.6"/>
<path class="s" d="M966,590 C967.5,591.7 970.2,598.7 975,600 C979.8,601.3 988.3,600.5 995,598 C1001.7,595.5 1009.2,588 1015,585 C1020.8,582 1027.5,580.8 1030,580" stroke-width="1.6"/>
<ellipse class="w" cx="1080" cy="629.5" rx="4.5" ry="3" transform="rotate(-10 1080 629.5)" stroke-width="1.9"/>
<path class="s" d="M1068,622 C1068.7,623.7 1068.7,629.8 1072,632 C1075.3,634.2 1083.3,635.7 1088,635 C1092.7,634.3 1096.3,629.7 1100,628 C1103.7,626.3 1108.3,625.5 1110,625" stroke-width="1.6"/>
<line class="lg" x1="1161.4" y1="602" x2="1161.4" y2="654" />
<path class="w" d="M1160.2,842 C1160.2,842.2 1160.1,842.9 1160,843.4 C1159.9,843.8 1159.7,844.3 1159.4,844.7 C1159.1,845.1 1158.8,845.6 1158.4,846 C1158,846.4 1157.5,846.9 1157,847.3 C1156.4,847.7 1155.9,848.1 1155.2,848.5 C1154.6,848.9 1153.8,849.3 1153.1,849.6 C1152.3,850 1151.5,850.4 1150.6,850.7 C1149.7,851 1148.8,851.4 1147.9,851.7 C1146.9,852 1145.9,852.3 1144.8,852.5 C1143.8,852.8 1142.7,853 1141.6,853.3 C1140.4,853.5 1139.3,853.7 1138.1,853.9 C1136.9,854.1 1135.7,854.2 1134.4,854.4 C1133.2,854.5 1131.9,854.6 1130.7,854.7 C1129.4,854.8 1128.1,854.9 1126.8,854.9 C1125.5,855 1124.2,855 1122.9,855 C1121.6,855 1120.3,855 1119,854.9 C1117.7,854.9 1116.4,854.8 1115.1,854.7 C1113.9,854.6 1112.6,854.5 1111.4,854.4 C1110.1,854.2 1108.9,854.1 1107.7,853.9 C1106.5,853.7 1105.4,853.5 1104.2,853.3 C1103.1,853 1102,852.8 1101,852.5 C1099.9,852.3 1098.9,852 1097.9,851.7 C1097,851.4 1096.1,851 1095.2,850.7 C1094.3,850.4 1093.5,850 1092.7,849.6 C1092,849.3 1091.2,848.9 1090.6,848.5 C1089.9,848.1 1089.4,847.7 1088.8,847.3 C1088.3,846.9 1087.8,846.4 1087.4,846 C1087,845.6 1086.7,845.1 1086.4,844.7 C1086.1,844.3 1085.9,843.8 1085.8,843.4 C1085.7,842.9 1085.6,842.2 1085.6,842" style="stroke-width:1.8"/>
<path class="w" d="M1085.6,822 L1085.6,842 L1085.8,843.4 L1086.4,844.7 L1087.4,846 L1088.8,847.3 L1090.6,848.5 L1092.7,849.6 L1095.2,850.7 L1097.9,851.7 L1101,852.5 L1104.2,853.3 L1107.7,853.9 L1111.4,854.4 L1115.1,854.7 L1119,854.9 L1122.9,855 L1126.8,854.9 L1130.7,854.7 L1134.4,854.4 L1138.1,853.9 L1141.6,853.3 L1144.8,852.5 L1147.9,851.7 L1150.6,850.7 L1153.1,849.6 L1155.2,848.5 L1157,847.3 L1158.4,846 L1159.4,844.7 L1160,843.4 L1160.2,842 L1160.2,842 L1160.2,822 Z" />
<path class="s" d="M1159.9,838 C1159.9,838.2 1159.8,838.9 1159.7,839.3 C1159.6,839.7 1159.4,840.2 1159.1,840.6 C1158.8,841 1158.5,841.4 1158.1,841.9 C1157.7,842.3 1157.2,842.7 1156.7,843.1 C1156.2,843.5 1155.6,843.9 1154.9,844.2 C1154.3,844.6 1153.6,845 1152.8,845.3 C1152.1,845.7 1151.3,846 1150.4,846.4 C1149.5,846.7 1148.6,847 1147.7,847.3 C1146.7,847.6 1145.7,847.9 1144.6,848.1 C1143.6,848.4 1142.5,848.6 1141.4,848.8 C1140.3,849 1139.1,849.2 1137.9,849.4 C1136.8,849.6 1135.6,849.8 1134.3,849.9 C1133.1,850 1131.9,850.1 1130.6,850.2 C1129.3,850.3 1128,850.4 1126.8,850.4 C1125.5,850.5 1124.2,850.5 1122.9,850.5 C1121.6,850.5 1120.3,850.5 1119,850.4 C1117.8,850.4 1116.5,850.3 1115.2,850.2 C1113.9,850.1 1112.7,850 1111.5,849.9 C1110.2,849.8 1109,849.6 1107.9,849.4 C1106.7,849.2 1105.5,849 1104.4,848.8 C1103.3,848.6 1102.2,848.4 1101.2,848.1 C1100.1,847.9 1099.1,847.6 1098.1,847.3 C1097.2,847 1096.3,846.7 1095.4,846.4 C1094.5,846 1093.7,845.7 1093,845.3 C1092.2,845 1091.5,844.6 1090.9,844.2 C1090.2,843.9 1089.6,843.5 1089.1,843.1 C1088.6,842.7 1088.1,842.3 1087.7,841.9 C1087.3,841.4 1087,841 1086.7,840.6 C1086.4,840.2 1086.2,839.7 1086.1,839.3 C1086,838.9 1085.9,838.2 1085.9,838" stroke-width="1.3"/>
<path class="w" d="M1085.6,828 C1085.6,827.8 1085.7,827.1 1085.8,826.6 C1085.9,826.2 1086.1,825.7 1086.4,825.3 C1086.7,824.9 1087,824.4 1087.4,824 C1087.8,823.6 1088.3,823.1 1088.8,822.7 C1089.4,822.3 1089.9,821.9 1090.6,821.5 C1091.2,821.1 1092,820.7 1092.7,820.4 C1093.5,820 1094.3,819.6 1095.2,819.3 C1096.1,819 1097,818.6 1097.9,818.3 C1098.9,818 1099.9,817.7 1101,817.5 C1102,817.2 1103.1,817 1104.2,816.7 C1105.4,816.5 1106.5,816.3 1107.7,816.1 C1108.9,815.9 1110.1,815.8 1111.4,815.6 C1112.6,815.5 1113.9,815.4 1115.1,815.3 C1116.4,815.2 1117.7,815.1 1119,815.1 C1120.3,815 1121.6,815 1122.9,815 C1124.2,815 1125.5,815 1126.8,815.1 C1128.1,815.1 1129.4,815.2 1130.7,815.3 C1131.9,815.4 1133.2,815.5 1134.4,815.6 C1135.7,815.8 1136.9,815.9 1138.1,816.1 C1139.3,816.3 1140.4,816.5 1141.6,816.7 C1142.7,817 1143.8,817.2 1144.8,817.5 C1145.9,817.7 1146.9,818 1147.9,818.3 C1148.8,818.6 1149.7,819 1150.6,819.3 C1151.5,819.6 1152.3,820 1153.1,820.4 C1153.8,820.7 1154.6,821.1 1155.2,821.5 C1155.9,821.9 1156.4,822.3 1157,822.7 C1157.5,823.1 1158,823.6 1158.4,824 C1158.8,824.4 1159.1,824.9 1159.4,825.3 C1159.7,825.7 1159.9,826.2 1160,826.6 C1160.1,827.1 1160.2,827.8 1160.2,828" style="stroke-width:1.8"/>
<ellipse class="w" cx="1122.9" cy="815" rx="36" ry="22" stroke-width="1.8"/>
<path class="s" d="M1087,818 L1087,830" />
<line class="s" x1="1111" y1="829" x2="1111" y2="846" stroke-width="1.4"/>
<line class="s" x1="1134.6" y1="829" x2="1134.6" y2="846" stroke-width="1.4"/>
<line class="s" x1="1154" y1="829" x2="1154" y2="846" stroke-width="1.4"/>
<line class="s" x1="1089.5" y1="826" x2="1089.5" y2="840" stroke-width="1.2"/>
<path class="w" d="M1100,822 C1098.3,819.7 1097,816.3 1098,814 C1099,811.7 1103.3,809.3 1106,808 C1108.7,806.7 1112,807.3 1114,806 C1116,804.7 1116,801.8 1118,800 C1120,798.2 1123,795.5 1126,795 C1129,794.5 1133.8,795.7 1136,797 C1138.2,798.3 1139.3,800.8 1139,803 C1138.7,805.2 1136.2,808.5 1134,810 C1131.8,811.5 1128.3,810.7 1126,812 C1123.7,813.3 1121.3,815.7 1120,818 C1118.7,820.3 1120,824.3 1118,826 C1116,827.7 1111,828.7 1108,828 C1105,827.3 1101.7,824.3 1100,822 Z" style="stroke-width:1.8"/>
<ellipse class="w" cx="1125" cy="802.5" rx="8.5" ry="5.5" stroke-width="1.6"/>
<ellipse class="w" cx="1105" cy="818" rx="7.5" ry="5" stroke-width="1.6"/>
<path class="w" d="M1003.3,849 L1003.3,929 L1003.5,931.1 L1004.1,933.2 L1005,935.3 L1006.3,937.3 L1008,939.2 L1010,941 L1012.3,942.7 L1014.9,944.2 L1017.8,945.5 L1020.9,946.7 L1024.2,947.6 L1027.6,948.4 L1031.2,949 L1034.8,949.3 L1038.5,949.4 L1042.2,949.3 L1045.8,949 L1049.4,948.4 L1052.8,947.6 L1056.1,946.7 L1059.2,945.5 L1062.1,944.2 L1064.7,942.7 L1067,941 L1069,939.2 L1070.7,937.3 L1072,935.3 L1072.9,933.2 L1073.5,931.1 L1073.7,929 L1073.7,849 Z" />
<path class="s" d="M1005.8,929.9 C1006,930.2 1006.3,931.2 1006.7,931.8 C1007.1,932.4 1007.5,933.1 1008,933.7 C1008.5,934.3 1009.1,934.8 1009.7,935.4 C1010.4,936 1011.1,936.5 1011.9,937 C1012.6,937.6 1013.5,938.1 1014.4,938.5 C1015.2,939 1016.2,939.5 1017.2,939.9 C1018.1,940.3 1019.2,940.7 1020.3,941 C1021.3,941.4 1022.5,941.7 1023.6,942 C1024.7,942.3 1025.9,942.6 1027.1,942.8 C1028.4,943 1029.6,943.2 1030.8,943.3 C1032.1,943.5 1033.4,943.6 1034.6,943.7 C1035.9,943.8 1037.2,943.8 1038.5,943.8 C1039.8,943.8 1041.1,943.8 1042.4,943.7 C1043.6,943.6 1044.9,943.5 1046.2,943.3 C1047.4,943.2 1048.6,943 1049.9,942.8 C1051.1,942.6 1052.3,942.3 1053.4,942 C1054.5,941.7 1055.7,941.4 1056.7,941 C1057.8,940.7 1058.9,940.3 1059.8,939.9 C1060.8,939.5 1061.8,939 1062.6,938.5 C1063.5,938.1 1064.4,937.6 1065.1,937 C1065.9,936.5 1066.6,936 1067.3,935.4 C1067.9,934.8 1068.5,934.3 1069,933.7 C1069.5,933.1 1069.9,932.4 1070.3,931.8 C1070.7,931.2 1071,930.2 1071.2,929.9" stroke-width="1.3"/>
<path class="w" d="M1001.8,835 L1001.9,833.1 L1002.3,831.2 L1002.8,829.4 L1003.6,827.6 L1004.6,825.8 L1005.8,824.1 L1007.2,822.5 L1008.8,820.9 L1010.6,819.4 L1012.5,818 L1014.7,816.8 L1016.9,815.6 L1019.3,814.5 L1021.8,813.6 L1024.5,812.8 L1027.2,812.2 L1029.9,811.7 L1032.8,811.3 L1035.6,811.1 L1038.5,811 L1041.4,811.1 L1044.2,811.3 L1047.1,811.7 L1049.8,812.2 L1052.5,812.8 L1055.2,813.6 L1057.7,814.5 L1060.1,815.6 L1062.3,816.8 L1064.5,818 L1066.4,819.4 L1068.2,820.9 L1069.8,822.5 L1071.2,824.1 L1072.4,825.8 L1073.4,827.6 L1074.2,829.4 L1074.7,831.2 L1075.1,833.1 L1075.2,835 L1075.2,842.7 L1075.2,842.7 L1075.1,844.6 L1074.7,846.5 L1074.2,848.3 L1073.4,850.1 L1072.4,851.9 L1071.2,853.6 L1069.8,855.2 L1068.2,856.8 L1066.4,858.3 L1064.5,859.7 L1062.3,860.9 L1060.1,862.1 L1057.7,863.2 L1055.2,864.1 L1052.5,864.9 L1049.8,865.5 L1047.1,866 L1044.2,866.4 L1041.4,866.6 L1038.5,866.7 L1035.6,866.6 L1032.8,866.4 L1029.9,866 L1027.2,865.5 L1024.5,864.9 L1021.8,864.1 L1019.3,863.2 L1016.9,862.1 L1014.7,860.9 L1012.5,859.7 L1010.6,858.3 L1008.8,856.8 L1007.2,855.2 L1005.8,853.6 L1004.6,851.9 L1003.6,850.1 L1002.8,848.3 L1002.3,846.5 L1001.9,844.6 L1001.8,842.7 Z" />
<path class="s" d="M1075.2,839.2 C1075.2,839.6 1075.1,840.9 1075,841.7 C1074.9,842.5 1074.7,843.4 1074.4,844.2 C1074.1,845 1073.8,845.8 1073.4,846.6 C1073,847.4 1072.5,848.2 1072,849 C1071.5,849.7 1070.9,850.5 1070.3,851.2 C1069.6,851.9 1068.9,852.6 1068.2,853.3 C1067.4,854 1066.6,854.6 1065.8,855.3 C1064.9,855.9 1064,856.5 1063.1,857 C1062.1,857.6 1061.1,858.1 1060.1,858.6 C1059,859.1 1058,859.6 1056.8,860 C1055.7,860.4 1054.6,860.8 1053.4,861.1 C1052.3,861.5 1051.1,861.8 1049.8,862 C1048.6,862.3 1047.4,862.5 1046.1,862.7 C1044.9,862.8 1043.6,863 1042.3,863.1 C1041.1,863.2 1039.8,863.2 1038.5,863.2 C1037.2,863.2 1035.9,863.2 1034.7,863.1 C1033.4,863 1032.1,862.8 1030.9,862.7 C1029.6,862.5 1028.4,862.3 1027.2,862 C1025.9,861.8 1024.7,861.5 1023.6,861.1 C1022.4,860.8 1021.3,860.4 1020.1,860 C1019,859.6 1018,859.1 1016.9,858.6 C1015.9,858.1 1014.9,857.6 1013.9,857 C1013,856.5 1012.1,855.9 1011.2,855.3 C1010.4,854.6 1009.6,854 1008.8,853.3 C1008.1,852.6 1007.4,851.9 1006.7,851.2 C1006.1,850.5 1005.5,849.7 1005,849 C1004.5,848.2 1004,847.4 1003.6,846.6 C1003.2,845.8 1002.9,845 1002.6,844.2 C1002.3,843.4 1002.1,842.5 1002,841.7 C1001.9,840.9 1001.8,839.6 1001.8,839.2" stroke-width="1.3"/>
<path class="s" d="M1074.2,847.9 C1074,848.2 1073.7,849.3 1073.4,850 C1073.1,850.8 1072.8,851.5 1072.4,852.2 C1072,852.9 1071.5,853.6 1071,854.2 C1070.5,854.9 1070,855.5 1069.4,856.2 C1068.8,856.8 1068.2,857.4 1067.5,858 C1066.9,858.6 1066.2,859.2 1065.4,859.8 C1064.7,860.3 1063.9,860.8 1063,861.3 C1062.2,861.9 1061.3,862.3 1060.5,862.8 C1059.6,863.2 1058.6,863.7 1057.7,864.1 C1056.7,864.4 1055.7,864.8 1054.7,865.1 C1053.7,865.5 1052.7,865.8 1051.7,866.1 C1050.6,866.3 1049.6,866.6 1048.5,866.8 C1047.4,867 1046.3,867.1 1045.2,867.3 C1044.1,867.4 1043,867.5 1041.9,867.6 C1040.7,867.7 1039.6,867.7 1038.5,867.7 C1037.4,867.7 1036.3,867.7 1035.1,867.6 C1034,867.5 1032.9,867.4 1031.8,867.3 C1030.7,867.1 1029.6,867 1028.5,866.8 C1027.4,866.6 1026.4,866.3 1025.3,866.1 C1024.3,865.8 1023.3,865.5 1022.3,865.1 C1021.3,864.8 1020.3,864.4 1019.3,864.1 C1018.4,863.7 1017.4,863.2 1016.5,862.8 C1015.7,862.3 1014.8,861.9 1014,861.3 C1013.1,860.8 1012.3,860.3 1011.6,859.8 C1010.8,859.2 1010.1,858.6 1009.5,858 C1008.8,857.4 1008.2,856.8 1007.6,856.2 C1007,855.5 1006.5,854.9 1006,854.2 C1005.5,853.6 1005,852.9 1004.6,852.2 C1004.2,851.5 1003.9,850.8 1003.6,850 C1003.3,849.3 1003,848.2 1002.8,847.9" stroke-width="1.4"/>
<path class="s" d="M1073.2,853.2 C1073,853.5 1072.7,854.6 1072.4,855.3 C1072.2,856.1 1071.8,856.8 1071.4,857.5 C1071,858.2 1070.6,858.9 1070.1,859.5 C1069.7,860.2 1069.1,860.8 1068.6,861.5 C1068,862.1 1067.4,862.7 1066.7,863.3 C1066.1,863.9 1065.4,864.5 1064.7,865.1 C1063.9,865.6 1063.2,866.1 1062.4,866.6 C1061.6,867.2 1060.7,867.6 1059.8,868.1 C1059,868.5 1058.1,869 1057.2,869.4 C1056.2,869.7 1055.3,870.1 1054.3,870.4 C1053.3,870.8 1052.3,871.1 1051.3,871.4 C1050.3,871.6 1049.3,871.9 1048.2,872.1 C1047.2,872.3 1046.1,872.4 1045,872.6 C1043.9,872.7 1042.9,872.8 1041.8,872.9 C1040.7,873 1039.6,873 1038.5,873 C1037.4,873 1036.3,873 1035.2,872.9 C1034.1,872.8 1033.1,872.7 1032,872.6 C1030.9,872.4 1029.8,872.3 1028.8,872.1 C1027.7,871.9 1026.7,871.6 1025.7,871.4 C1024.7,871.1 1023.7,870.8 1022.7,870.4 C1021.7,870.1 1020.8,869.7 1019.8,869.4 C1018.9,869 1018,868.5 1017.2,868.1 C1016.3,867.6 1015.4,867.2 1014.6,866.6 C1013.8,866.1 1013.1,865.6 1012.3,865.1 C1011.6,864.5 1010.9,863.9 1010.3,863.3 C1009.6,862.7 1009,862.1 1008.4,861.5 C1007.9,860.8 1007.3,860.2 1006.9,859.5 C1006.4,858.9 1006,858.2 1005.6,857.5 C1005.2,856.8 1004.8,856.1 1004.6,855.3 C1004.3,854.6 1004,853.5 1003.8,853.2" stroke-width="1.7"/>
<ellipse class="w" cx="1038.5" cy="836" rx="31.7" ry="20.5" stroke-width="1.6"/>
<ellipse class="w" cx="1038.5" cy="837" rx="27.7" ry="18" stroke-width="1.4"/>
<ellipse class="w" cx="1027.4" cy="825.7" rx="4.3" ry="2.6" stroke-width="2.3"/>
<ellipse class="w" cx="1043.3" cy="823" rx="4.3" ry="2.6" stroke-width="2.3"/>
<ellipse class="w" cx="1057.1" cy="831.3" rx="4.3" ry="2.6" stroke-width="2.3"/>
<ellipse class="w" cx="1049.5" cy="841" rx="4.3" ry="2.6" stroke-width="2.3"/>
<ellipse class="w" cx="1031.5" cy="841" rx="4.3" ry="2.6" stroke-width="2.3"/>
<ellipse class="w" cx="1019.8" cy="833.4" rx="4.3" ry="2.6" stroke-width="2.3"/>
<ellipse class="none" cx="1037.8" cy="832" rx="3.5" ry="2.5" fill="#444"/>
<path class="w" d="M1088.4,896 L1088.4,937.5 L1088.6,939.6 L1089.2,941.7 L1090.1,943.8 L1091.4,945.8 L1093.1,947.7 L1095,949.5 L1097.3,951.2 L1099.9,952.7 L1102.7,954 L1105.8,955.2 L1109,956.1 L1112.4,956.9 L1116,957.5 L1119.6,957.8 L1123.2,957.9 L1126.8,957.8 L1130.4,957.5 L1134,956.9 L1137.4,956.1 L1140.6,955.2 L1143.7,954 L1146.5,952.7 L1149.1,951.2 L1151.4,949.5 L1153.3,947.7 L1155,945.8 L1156.3,943.8 L1157.2,941.7 L1157.8,939.6 L1158,937.5 L1158,896 Z" />
<path class="s" d="M1090.9,938.4 C1091,938.7 1091.4,939.7 1091.8,940.3 C1092.1,940.9 1092.6,941.6 1093.1,942.2 C1093.6,942.8 1094.2,943.3 1094.8,943.9 C1095.4,944.5 1096.1,945 1096.9,945.5 C1097.6,946.1 1098.5,946.6 1099.3,947 C1100.2,947.5 1101.1,948 1102.1,948.4 C1103.1,948.8 1104.1,949.2 1105.2,949.5 C1106.2,949.9 1107.3,950.2 1108.5,950.5 C1109.6,950.8 1110.8,951.1 1112,951.3 C1113.2,951.5 1114.4,951.7 1115.6,951.8 C1116.9,952 1118.1,952.1 1119.4,952.2 C1120.7,952.3 1121.9,952.3 1123.2,952.3 C1124.5,952.3 1125.7,952.3 1127,952.2 C1128.3,952.1 1129.5,952 1130.8,951.8 C1132,951.7 1133.2,951.5 1134.4,951.3 C1135.6,951.1 1136.8,950.8 1137.9,950.5 C1139.1,950.2 1140.2,949.9 1141.2,949.5 C1142.3,949.2 1143.3,948.8 1144.3,948.4 C1145.3,948 1146.2,947.5 1147.1,947 C1147.9,946.6 1148.8,946.1 1149.5,945.5 C1150.3,945 1151,944.5 1151.6,943.9 C1152.2,943.3 1152.8,942.8 1153.3,942.2 C1153.8,941.6 1154.3,940.9 1154.6,940.3 C1155,939.7 1155.4,938.7 1155.5,938.4" stroke-width="1.3"/>
<path class="w" d="M1086.9,882 L1087,880.1 L1087.3,878.2 L1087.9,876.4 L1088.7,874.6 L1089.7,872.8 L1090.9,871.1 L1092.2,869.5 L1093.8,867.9 L1095.6,866.4 L1097.5,865 L1099.6,863.8 L1101.9,862.6 L1104.2,861.5 L1106.7,860.6 L1109.3,859.8 L1112,859.2 L1114.7,858.7 L1117.5,858.3 L1120.4,858.1 L1123.2,858 L1126,858.1 L1128.9,858.3 L1131.7,858.7 L1134.4,859.2 L1137.1,859.8 L1139.7,860.6 L1142.2,861.5 L1144.5,862.6 L1146.8,863.8 L1148.9,865 L1150.8,866.4 L1152.6,867.9 L1154.2,869.5 L1155.5,871.1 L1156.7,872.8 L1157.7,874.6 L1158.5,876.4 L1159.1,878.2 L1159.4,880.1 L1159.5,882 L1159.5,889.7 L1159.5,889.7 L1159.4,891.6 L1159.1,893.5 L1158.5,895.3 L1157.7,897.1 L1156.7,898.9 L1155.5,900.6 L1154.2,902.2 L1152.6,903.8 L1150.8,905.3 L1148.9,906.7 L1146.8,907.9 L1144.5,909.1 L1142.2,910.2 L1139.7,911.1 L1137.1,911.9 L1134.4,912.5 L1131.7,913 L1128.9,913.4 L1126,913.6 L1123.2,913.7 L1120.4,913.6 L1117.5,913.4 L1114.7,913 L1112,912.5 L1109.3,911.9 L1106.7,911.1 L1104.2,910.2 L1101.9,909.1 L1099.6,907.9 L1097.5,906.7 L1095.6,905.3 L1093.8,903.8 L1092.2,902.2 L1090.9,900.6 L1089.7,898.9 L1088.7,897.1 L1087.9,895.3 L1087.3,893.5 L1087,891.6 L1086.9,889.7 Z" />
<path class="s" d="M1159.5,886.2 C1159.5,886.6 1159.4,887.9 1159.3,888.7 C1159.2,889.5 1159,890.4 1158.7,891.2 C1158.4,892 1158.1,892.8 1157.7,893.6 C1157.3,894.4 1156.9,895.2 1156.4,896 C1155.8,896.7 1155.3,897.5 1154.6,898.2 C1154,898.9 1153.3,899.6 1152.6,900.3 C1151.8,901 1151,901.6 1150.2,902.3 C1149.3,902.9 1148.4,903.5 1147.5,904 C1146.5,904.6 1145.6,905.1 1144.5,905.6 C1143.5,906.1 1142.4,906.6 1141.4,907 C1140.3,907.4 1139.1,907.8 1138,908.1 C1136.8,908.5 1135.6,908.8 1134.4,909 C1133.2,909.3 1132,909.5 1130.7,909.7 C1129.5,909.8 1128.3,910 1127,910.1 C1125.7,910.2 1124.5,910.2 1123.2,910.2 C1121.9,910.2 1120.7,910.2 1119.4,910.1 C1118.1,910 1116.9,909.8 1115.7,909.7 C1114.4,909.5 1113.2,909.3 1112,909 C1110.8,908.8 1109.6,908.5 1108.4,908.1 C1107.3,907.8 1106.1,907.4 1105,907 C1104,906.6 1102.9,906.1 1101.9,905.6 C1100.8,905.1 1099.9,904.6 1098.9,904 C1098,903.5 1097.1,902.9 1096.2,902.3 C1095.4,901.6 1094.6,901 1093.8,900.3 C1093.1,899.6 1092.4,898.9 1091.8,898.2 C1091.1,897.5 1090.6,896.7 1090,896 C1089.5,895.2 1089.1,894.4 1088.7,893.6 C1088.3,892.8 1088,892 1087.7,891.2 C1087.4,890.4 1087.2,889.5 1087.1,888.7 C1087,887.9 1086.9,886.6 1086.9,886.2" stroke-width="1.3"/>
<path class="s" d="M1158.5,894.9 C1158.3,895.2 1158,896.3 1157.7,897 C1157.4,897.8 1157.1,898.5 1156.7,899.2 C1156.3,899.9 1155.9,900.6 1155.4,901.2 C1154.9,901.9 1154.4,902.5 1153.8,903.2 C1153.2,903.8 1152.6,904.4 1151.9,905 C1151.3,905.6 1150.5,906.2 1149.8,906.8 C1149.1,907.3 1148.3,907.8 1147.5,908.3 C1146.6,908.9 1145.8,909.3 1144.9,909.8 C1144,910.2 1143.1,910.7 1142.2,911.1 C1141.2,911.4 1140.3,911.8 1139.3,912.1 C1138.3,912.5 1137.3,912.8 1136.2,913.1 C1135.2,913.3 1134.1,913.6 1133.1,913.8 C1132,914 1130.9,914.1 1129.8,914.3 C1128.7,914.4 1127.6,914.5 1126.5,914.6 C1125.4,914.7 1124.3,914.7 1123.2,914.7 C1122.1,914.7 1121,914.7 1119.9,914.6 C1118.8,914.5 1117.7,914.4 1116.6,914.3 C1115.5,914.1 1114.4,914 1113.3,913.8 C1112.3,913.6 1111.2,913.3 1110.2,913.1 C1109.1,912.8 1108.1,912.5 1107.1,912.1 C1106.1,911.8 1105.2,911.4 1104.2,911.1 C1103.3,910.7 1102.4,910.2 1101.5,909.8 C1100.6,909.3 1099.8,908.9 1098.9,908.3 C1098.1,907.8 1097.3,907.3 1096.6,906.8 C1095.9,906.2 1095.1,905.6 1094.5,905 C1093.8,904.4 1093.2,903.8 1092.6,903.2 C1092,902.5 1091.5,901.9 1091,901.2 C1090.5,900.6 1090.1,899.9 1089.7,899.2 C1089.3,898.5 1089,897.8 1088.7,897 C1088.4,896.3 1088.1,895.2 1087.9,894.9" stroke-width="1.4"/>
<path class="s" d="M1157.5,900.2 C1157.4,900.5 1157,901.6 1156.8,902.3 C1156.5,903.1 1156.1,903.8 1155.8,904.5 C1155.4,905.2 1155,905.9 1154.5,906.5 C1154,907.2 1153.5,907.8 1152.9,908.5 C1152.4,909.1 1151.8,909.7 1151.1,910.3 C1150.5,910.9 1149.8,911.5 1149.1,912.1 C1148.3,912.6 1147.6,913.1 1146.8,913.6 C1146,914.2 1145.2,914.6 1144.3,915.1 C1143.4,915.5 1142.6,916 1141.6,916.4 C1140.7,916.7 1139.8,917.1 1138.8,917.4 C1137.9,917.8 1136.9,918.1 1135.9,918.4 C1134.9,918.6 1133.8,918.9 1132.8,919.1 C1131.8,919.3 1130.7,919.4 1129.6,919.6 C1128.6,919.7 1127.5,919.8 1126.4,919.9 C1125.4,920 1124.3,920 1123.2,920 C1122.1,920 1121,920 1120,919.9 C1118.9,919.8 1117.8,919.7 1116.8,919.6 C1115.7,919.4 1114.6,919.3 1113.6,919.1 C1112.6,918.9 1111.5,918.6 1110.5,918.4 C1109.5,918.1 1108.5,917.8 1107.6,917.4 C1106.6,917.1 1105.7,916.7 1104.8,916.4 C1103.8,916 1103,915.5 1102.1,915.1 C1101.2,914.6 1100.4,914.2 1099.6,913.6 C1098.8,913.1 1098.1,912.6 1097.3,912.1 C1096.6,911.5 1095.9,910.9 1095.3,910.3 C1094.6,909.7 1094,909.1 1093.5,908.5 C1092.9,907.8 1092.4,907.2 1091.9,906.5 C1091.4,905.9 1091,905.2 1090.6,904.5 C1090.3,903.8 1089.9,903.1 1089.6,902.3 C1089.4,901.6 1089,900.5 1088.9,900.2" stroke-width="1.7"/>
<ellipse class="w" cx="1123.2" cy="883" rx="31.3" ry="20.5" stroke-width="1.6"/>
<ellipse class="w" cx="1123.2" cy="884" rx="27.3" ry="18" stroke-width="1.4"/>
<ellipse class="w" cx="1111.8" cy="871.4" rx="4.3" ry="2.6" stroke-width="2.3"/>
<ellipse class="w" cx="1127.7" cy="869.3" rx="4.3" ry="2.6" stroke-width="2.3"/>
<ellipse class="w" cx="1140.9" cy="877" rx="4.3" ry="2.6" stroke-width="2.3"/>
<ellipse class="w" cx="1134" cy="886" rx="4.3" ry="2.6" stroke-width="2.3"/>
<ellipse class="w" cx="1116" cy="886.6" rx="4.3" ry="2.6" stroke-width="2.3"/>
<ellipse class="w" cx="1105.6" cy="879" rx="4.3" ry="2.6" stroke-width="2.3"/>
<ellipse class="none" cx="1122.9" cy="878.3" rx="3.5" ry="2.5" fill="#444"/>
<line class="ld" x1="976.4" y1="881.7" x2="1003" y2="881.7" />
<line class="lg" x1="1159" y1="879.5" x2="1178" y2="879.5" />
<path class="w" d="M473.3,1072.5 L474.7,1062.8 L483,1053.1 L492.7,1049.7 L502.4,1046.2 L506.5,1040.7 L520.4,1033.8 L542.5,1022.7 L553.6,1010.2 L567.4,1003.3 L589.6,1002.6 L596.5,1004.7 L631.1,1004 L639.4,1007.5 L658,1018 L748,1063.7 L754.9,1065 L760.4,1070.6 L813,1099.7 L818.5,1105.2 L821.3,1110.7 L831,1145.3 L829.6,1152.2 L821.1,1162 L821.1,1216.4 L817.5,1225.4 L796,1241.5 L760,1265 L733,1272.1 L706,1274.8 L680.8,1272.1 L661,1263.1 L634,1251 L614.6,1240 L591.8,1227 L584.2,1219.4 L581.1,1196.6 L576.6,1181.4 L561.4,1166.1 L500.5,1137.2 L488.3,1123.5 L483,1114 L481.6,1103 L478.8,1083.6 Z" />
<path class="w" d="M496.8,1065.6 L501,1060 L542.5,1036.5 L546.7,1028.2 L561.9,1024 L575.7,1017.1 L589.6,1016.5 L632.5,1017.8 L640,1022 L799.2,1109.3 L800.6,1113.5 L799.2,1156.4 L790,1165 L761.8,1180 L750,1186 L714,1188 L665,1188.8 L586.8,1150 L505.1,1105.7 L502.4,1101.6 L502.4,1085 Z" />
<line class="s" x1="561.9" y1="1024" x2="561.9" y2="1049" stroke-width="1.6"/>
<line class="s" x1="592.3" y1="1019" x2="592.3" y2="1050" stroke-width="1.6"/>
<line class="s" x1="631.8" y1="1018" x2="631.8" y2="1050" stroke-width="1.6"/>
<path class="s" d="M502.4,1086.3 L561.9,1049.7 L631.1,1049.7 L665,1068.4" stroke-width="1.6"/>
<path class="s" d="M640,1055.4 L687,1081.7 L712,1114.9 L714.7,1155" stroke-width="1.6"/>
<line class="s" x1="586.8" y1="1148.6" x2="687" y2="1081.7" stroke-width="1.4"/>
<line class="s" x1="620" y1="1168" x2="705" y2="1114.9" stroke-width="1.4"/>
<line class="s" x1="705" y1="1114.9" x2="712" y2="1114.9" stroke-width="1.4"/>
<path class="s" d="M714.7,1155 L745,1172 L775,1178 L799,1157" stroke-width="1.4"/>
<line class="s" x1="798.5" y1="1110.7" x2="798.5" y2="1157.8" stroke-width="1.4"/>
<path class="w" d="M724.4,1168.9 L724.4,1102.7 L729.2,1099.7 L734.1,1102.7 L734.1,1168.9 Z" />
<line class="t" x1="729.2" y1="1102.7" x2="729.2" y2="1166.9" stroke-width="1.9" stroke="#888"/>
<path class="w" d="M763.2,1174.4 L763.2,1127.6 L768.8,1124.6 L774.3,1127.6 L774.3,1174.4 Z" />
<line class="t" x1="768.8" y1="1127.6" x2="768.8" y2="1172.4" stroke-width="1.9" stroke="#888"/>
<path class="w" d="M775.6,1171.6 L775.6,1133 L780.1,1130 L784.6,1133 L784.6,1171.6 Z" />
<line class="t" x1="780.1" y1="1133" x2="780.1" y2="1169.6" stroke-width="1.9" stroke="#888"/>
<path class="w" d="M670.4,1182.7 L670.4,1170 L675,1162 L682,1162 L687,1168 L687,1182.7 Z" />
<path class="s" d="M683,1170 L705,1178 L720,1186" stroke-width="1.4"/>
<line class="t" x1="690" y1="1178" x2="688" y2="1185" stroke-width="1"/>
<line class="t" x1="693" y1="1178.8" x2="691" y2="1185.8" stroke-width="1"/>
<line class="t" x1="696" y1="1179.6" x2="694" y2="1186.6" stroke-width="1"/>
<line class="t" x1="699" y1="1180.4" x2="697" y2="1187.4" stroke-width="1"/>
<line class="t" x1="702" y1="1181.2" x2="700" y2="1188.2" stroke-width="1"/>
<line class="t" x1="705" y1="1182" x2="703" y2="1189" stroke-width="1"/>
<line class="s" x1="678" y1="1218" x2="678" y2="1270.3" stroke-width="1.6"/>
<line class="s" x1="729.3" y1="1220" x2="729.3" y2="1272" stroke-width="1.6"/>
<path class="s" d="M485,1110 L576.6,1163 L601.6,1176.8 L661,1200.2 L742,1199.3 L752.7,1194.8 L830,1148" stroke-width="1.7"/>
<path class="s" d="M486,1117 L576.6,1167.5 L582,1176 L589,1168 L592,1196 L597,1180 L602.5,1183.5 L661,1209.2 L673.6,1214.6 L720.3,1216.4 L751,1212.8 L760,1207.4 L821,1168.7" stroke-width="1.8"/>
<path class="s" d="M489.8,1125 L534,1147.9 L576.6,1167.6" stroke-width="1.4"/>
<path class="s" d="M499.5,1116 L510,1112 L513,1122 L502,1127 Z" stroke-width="1.4"/>
<path class="s" d="M606,1177 L614,1174 L618,1184 L609,1187 Z" stroke-width="1.4"/>
<path class="s" d="M784,1175 L793,1170 L797,1180 L788,1184 Z" stroke-width="1.4"/>
<path class="s" d="M613,1198 L613,1219 L617,1222.5 L630,1220 L630,1203" stroke-width="1.7"/>
<ellipse class="w" cx="650.4" cy="1247.6" rx="3.8" ry="4.5" transform="rotate(15 650.4 1247.6)" stroke-width="1.9"/>
<ellipse class="w" cx="563.3" cy="1013" rx="3.6" ry="2.4" transform="rotate(-8 563.3 1013)" stroke-width="1.8"/>
<ellipse class="none" cx="563.7" cy="1013.2" rx="1.6" ry="1.1" transform="rotate(-8 563.7 1013.2)" fill="#888"/>
<ellipse class="w" cx="597.9" cy="1010.2" rx="3.6" ry="2.4" transform="rotate(-8 597.9 1010.2)" stroke-width="1.8"/>
<ellipse class="none" cx="598.3" cy="1010.4" rx="1.6" ry="1.1" transform="rotate(-8 598.3 1010.4)" fill="#888"/>
<ellipse class="w" cx="640.8" cy="1014.4" rx="3.6" ry="2.4" transform="rotate(-8 640.8 1014.4)" stroke-width="1.8"/>
<ellipse class="none" cx="641.2" cy="1014.6" rx="1.6" ry="1.1" transform="rotate(-8 641.2 1014.6)" fill="#888"/>
<ellipse class="w" cx="527.3" cy="1034.4" rx="3.6" ry="2.4" transform="rotate(-8 527.3 1034.4)" stroke-width="1.8"/>
<ellipse class="none" cx="527.7" cy="1034.6" rx="1.6" ry="1.1" transform="rotate(-8 527.7 1034.6)" fill="#888"/>
<ellipse class="w" cx="496.8" cy="1054.5" rx="3.6" ry="2.4" transform="rotate(-8 496.8 1054.5)" stroke-width="1.8"/>
<ellipse class="none" cx="497.2" cy="1054.7" rx="1.6" ry="1.1" transform="rotate(-8 497.2 1054.7)" fill="#888"/>
<ellipse class="w" cx="490.6" cy="1076.7" rx="3.6" ry="2.4" transform="rotate(-8 490.6 1076.7)" stroke-width="1.8"/>
<ellipse class="none" cx="491" cy="1076.9" rx="1.6" ry="1.1" transform="rotate(-8 491 1076.9)" fill="#888"/>
<ellipse class="w" cx="496.8" cy="1108.5" rx="3.6" ry="2.4" transform="rotate(-8 496.8 1108.5)" stroke-width="1.8"/>
<ellipse class="none" cx="497.2" cy="1108.7" rx="1.6" ry="1.1" transform="rotate(-8 497.2 1108.7)" fill="#888"/>
<ellipse class="w" cx="528.7" cy="1127.2" rx="3.6" ry="2.4" transform="rotate(-8 528.7 1127.2)" stroke-width="1.8"/>
<ellipse class="none" cx="529.1" cy="1127.4" rx="1.6" ry="1.1" transform="rotate(-8 529.1 1127.4)" fill="#888"/>
<ellipse class="w" cx="600" cy="1168" rx="3.6" ry="2.4" transform="rotate(-8 600 1168)" stroke-width="1.8"/>
<ellipse class="none" cx="600.4" cy="1168.2" rx="1.6" ry="1.1" transform="rotate(-8 600.4 1168.2)" fill="#888"/>
<ellipse class="w" cx="631.1" cy="1184" rx="3.6" ry="2.4" transform="rotate(-8 631.1 1184)" stroke-width="1.8"/>
<ellipse class="none" cx="631.5" cy="1184.2" rx="1.6" ry="1.1" transform="rotate(-8 631.5 1184.2)" fill="#888"/>
<ellipse class="w" cx="673.2" cy="1045" rx="3.6" ry="2.4" transform="rotate(-8 673.2 1045)" stroke-width="1.8"/>
<ellipse class="none" cx="673.6" cy="1045.2" rx="1.6" ry="1.1" transform="rotate(-8 673.6 1045.2)" fill="#888"/>
<ellipse class="w" cx="736.4" cy="1079" rx="3.6" ry="2.4" transform="rotate(-8 736.4 1079)" stroke-width="1.8"/>
<ellipse class="none" cx="736.8" cy="1079.2" rx="1.6" ry="1.1" transform="rotate(-8 736.8 1079.2)" fill="#888"/>
<ellipse class="w" cx="775" cy="1099.5" rx="3.6" ry="2.4" transform="rotate(-8 775 1099.5)" stroke-width="1.8"/>
<ellipse class="none" cx="775.4" cy="1099.7" rx="1.6" ry="1.1" transform="rotate(-8 775.4 1099.7)" fill="#888"/>
<ellipse class="w" cx="816.5" cy="1119" rx="3.6" ry="2.4" transform="rotate(-8 816.5 1119)" stroke-width="1.8"/>
<ellipse class="none" cx="816.9" cy="1119.2" rx="1.6" ry="1.1" transform="rotate(-8 816.9 1119.2)" fill="#888"/>
<ellipse class="w" cx="819.6" cy="1137.6" rx="3.6" ry="2.4" transform="rotate(-8 819.6 1137.6)" stroke-width="1.8"/>
<ellipse class="none" cx="820" cy="1137.8" rx="1.6" ry="1.1" transform="rotate(-8 820 1137.8)" fill="#888"/>
<ellipse class="w" cx="808" cy="1159" rx="3.6" ry="2.4" transform="rotate(-8 808 1159)" stroke-width="1.8"/>
<ellipse class="none" cx="808.4" cy="1159.2" rx="1.6" ry="1.1" transform="rotate(-8 808.4 1159.2)" fill="#888"/>
<ellipse class="w" cx="774" cy="1181" rx="3.6" ry="2.4" transform="rotate(-8 774 1181)" stroke-width="1.8"/>
<ellipse class="none" cx="774.4" cy="1181.2" rx="1.6" ry="1.1" transform="rotate(-8 774.4 1181.2)" fill="#888"/>
<ellipse class="w" cx="743" cy="1192" rx="3.6" ry="2.4" transform="rotate(-8 743 1192)" stroke-width="1.8"/>
<ellipse class="none" cx="743.4" cy="1192.2" rx="1.6" ry="1.1" transform="rotate(-8 743.4 1192.2)" fill="#888"/>
<ellipse class="w" cx="705.5" cy="1198" rx="3.6" ry="2.4" transform="rotate(-8 705.5 1198)" stroke-width="1.8"/>
<ellipse class="none" cx="705.9" cy="1198.2" rx="1.6" ry="1.1" transform="rotate(-8 705.9 1198.2)" fill="#888"/>
<line class="lg" x1="518" y1="1008.3" x2="518" y2="1036" />
<path class="w" d="M473.3,872 L474.7,865 L478.8,859.5 L487.1,854 L499.6,845.7 L517.6,834.6 L525.9,829.8 L542.5,823.5 L548,818 L555,811 L564.7,806.9 L575.7,804.2 L633.9,805.5 L645,809.7 L816.3,903 L821.7,911.1 L827,943.5 L829.8,951.6 L824.4,959.7 L756.9,1008.3 L746,1016.4 L716.4,1017.8 L667.8,1015 L659.7,1008.3 L491.3,921.8 L485.8,916.3 L483,910.7 L481.6,896.9 L480.2,885.8 L476,880.3 Z" />
<path class="w" d="M496.8,874.7 L502.4,863.7 L542.5,841.5 L545.3,836 L549.4,830.4 L564.7,829.1 L574.3,822.1 L589.6,820.8 L633.9,823.5 L802.8,909.8 L808.2,943.5 L805.5,959.7 L746,998.9 L667.8,1001.6 L503.8,908 L499.6,877.5 Z" />
<path class="s" d="M491.3,875.6 L499,860.4 L539.1,838.2 L541.5,833.6 L547,826.1 L563.1,824.7 L572.7,817.7 L589.5,816.3 L635.1,819.1 L806.9,906.8 L812.8,943.5 L809.6,962.4 L747.4,1003.4 L666.7,1006.1 L499.6,910.8 L495.3,879.6 Z" stroke-width="1.1" stroke="#555"/>
<path class="s" d="M486,914.5 L492.4,922 L659.7,1011.5 L667.8,1018.2 L716.4,1021 L746,1019.6 L756.9,1011.5 L825,962.5" stroke-width="1.6"/>
<ellipse class="w" cx="563.9" cy="815.3" rx="3.4" ry="2.3" transform="rotate(-10 563.9 815.3)" stroke-width="1.8"/>
<ellipse class="w" cx="597.7" cy="812.6" rx="3.4" ry="2.3" transform="rotate(-10 597.7 812.6)" stroke-width="1.8"/>
<ellipse class="w" cx="642.2" cy="815.3" rx="3.4" ry="2.3" transform="rotate(-10 642.2 815.3)" stroke-width="1.8"/>
<ellipse class="w" cx="673.2" cy="834.2" rx="3.4" ry="2.3" transform="rotate(-10 673.2 834.2)" stroke-width="1.8"/>
<ellipse class="w" cx="736.6" cy="870.7" rx="3.4" ry="2.3" transform="rotate(-10 736.6 870.7)" stroke-width="1.8"/>
<ellipse class="w" cx="771.7" cy="888.2" rx="3.4" ry="2.3" transform="rotate(-10 771.7 888.2)" stroke-width="1.8"/>
<ellipse class="w" cx="808.2" cy="908.4" rx="3.4" ry="2.3" transform="rotate(-10 808.2 908.4)" stroke-width="1.8"/>
<ellipse class="w" cx="814.9" cy="939.5" rx="3.4" ry="2.3" transform="rotate(-10 814.9 939.5)" stroke-width="1.8"/>
<ellipse class="w" cx="809.5" cy="961.1" rx="3.4" ry="2.3" transform="rotate(-10 809.5 961.1)" stroke-width="1.8"/>
<ellipse class="w" cx="779.8" cy="981.3" rx="3.4" ry="2.3" transform="rotate(-10 779.8 981.3)" stroke-width="1.8"/>
<ellipse class="w" cx="748.8" cy="1000.2" rx="3.4" ry="2.3" transform="rotate(-10 748.8 1000.2)" stroke-width="1.8"/>
<ellipse class="w" cx="712.4" cy="1007" rx="3.4" ry="2.3" transform="rotate(-10 712.4 1007)" stroke-width="1.8"/>
<ellipse class="w" cx="666.5" cy="1005.6" rx="3.4" ry="2.3" transform="rotate(-10 666.5 1005.6)" stroke-width="1.8"/>
<ellipse class="w" cx="631.4" cy="985.4" rx="3.4" ry="2.3" transform="rotate(-10 631.4 985.4)" stroke-width="1.8"/>
<ellipse class="w" cx="528.8" cy="930" rx="3.4" ry="2.3" transform="rotate(-10 528.8 930)" stroke-width="1.8"/>
<ellipse class="w" cx="496.4" cy="911.1" rx="3.4" ry="2.3" transform="rotate(-10 496.4 911.1)" stroke-width="1.8"/>
<ellipse class="w" cx="489.7" cy="878.8" rx="3.4" ry="2.3" transform="rotate(-10 489.7 878.8)" stroke-width="1.8"/>
<ellipse class="w" cx="497.8" cy="855.8" rx="3.4" ry="2.3" transform="rotate(-10 497.8 855.8)" stroke-width="1.8"/>
<ellipse class="w" cx="528.8" cy="836.9" rx="3.4" ry="2.3" transform="rotate(-10 528.8 836.9)" stroke-width="1.8"/>
<line x1="605" y1="811" x2="633" y2="811.5" stroke='#222' stroke-width='7.2' stroke-linecap='round'/>
<line x1="605" y1="811" x2="633" y2="811.5" stroke='#fff' stroke-width='3.4' stroke-linecap='round'/>
<line x1="782" y1="896" x2="797" y2="902" stroke='#222' stroke-width='7.2' stroke-linecap='round'/>
<line x1="782" y1="896" x2="797" y2="902" stroke='#fff' stroke-width='3.4' stroke-linecap='round'/>
<line x1="811" y1="918" x2="813.5" y2="931" stroke='#222' stroke-width='7.2' stroke-linecap='round'/>
<line x1="811" y1="918" x2="813.5" y2="931" stroke='#fff' stroke-width='3.4' stroke-linecap='round'/>
<line x1="491" y1="885" x2="494" y2="903" stroke='#222' stroke-width='7.2' stroke-linecap='round'/>
<line x1="491" y1="885" x2="494" y2="903" stroke='#fff' stroke-width='3.4' stroke-linecap='round'/>
<line x1="678" y1="1005" x2="701" y2="1006" stroke='#222' stroke-width='7.2' stroke-linecap='round'/>
<line x1="678" y1="1005" x2="701" y2="1006" stroke='#fff' stroke-width='3.4' stroke-linecap='round'/>
<line x1="721" y1="1006" x2="739" y2="1007" stroke='#222' stroke-width='7.2' stroke-linecap='round'/>
<line x1="721" y1="1006" x2="739" y2="1007" stroke='#fff' stroke-width='3.4' stroke-linecap='round'/>
<line x1="580" y1="809" x2="593" y2="809" stroke='#222' stroke-width='7.2' stroke-linecap='round'/>
<line x1="580" y1="809" x2="593" y2="809" stroke='#fff' stroke-width='3.4' stroke-linecap='round'/>
<line class="ld" x1="510" y1="792" x2="510" y2="841" />
<line class="s" x1="749.3" y1="1016" x2="749.3" y2="1290" stroke-width="1.4"/>
<ellipse class="w" cx="620.3" cy="1266.8" rx="7.2" ry="8.6" transform="rotate(20 620.3 1266.8)" stroke-width="2.2"/>
<ellipse class="w" cx="620.8" cy="1267" rx="3.4" ry="4.2" transform="rotate(20 620.8 1267)" stroke-width="1.8"/>
<line class="s" x1="612" y1="1273.6" x2="654.6" y2="1247.6" stroke-width="1.4"/>
<path class="w" d="M595,1272 L606,1268 L612.5,1279 L604,1287 Z" />
<line class="t" x1="598" y1="1271" x2="601" y2="1281" stroke-width="1.2"/>
<line class="t" x1="600.8" y1="1269.9" x2="603.8" y2="1279.9" stroke-width="1.2"/>
<line class="t" x1="603.6" y1="1268.8" x2="606.6" y2="1278.8" stroke-width="1.2"/>
<line class="t" x1="606.4" y1="1267.7" x2="609.4" y2="1277.7" stroke-width="1.2"/>
<line class="t" x1="609.2" y1="1266.6" x2="612.2" y2="1276.6" stroke-width="1.2"/>
<ellipse class="w" cx="597.5" cy="1282.3" rx="8" ry="8.8" transform="rotate(20 597.5 1282.3)" stroke-width="2.2"/>
<ellipse class="s" cx="597.5" cy="1282.3" rx="3.8" ry="4.2" transform="rotate(20 597.5 1282.3)" stroke-width="1.6"/>
<line class="ld" x1="570.5" y1="1261.6" x2="613" y2="1261.6" />
<line class="ld" x1="568.4" y1="1283.6" x2="589.2" y2="1283.6" />
<line class="s" x1="662.9" y1="1265" x2="662.9" y2="1321" stroke-width="1.4"/>
<ellipse class="none" cx="662.9" cy="1328.5" rx="11.2" ry="6.2" fill="#3a3a3a" stroke="#222" stroke-width="1.9"/>
<ellipse class="none" cx="662.9" cy="1326.3" rx="11" ry="5.6" fill="#555" stroke="#222" stroke-width="1.7"/>
<ellipse class="none" cx="662.9" cy="1326.2" rx="6.2" ry="2.6" fill="#999" stroke="#222" stroke-width="1.7"/>
<line class="ld" x1="633.8" y1="1329.6" x2="651.4" y2="1329.6" />
<line class="s" x1="662.9" y1="1334" x2="662.9" y2="1363" stroke-width="1.4"/>
<path class="s" d="M662.9,1344.2 L701.3,1362.9 L701.3,1371" stroke-width="1.4"/>
<path class="w" d="M654,1367 L654,1380 L671.5,1380 L671.5,1367 Z" />
<ellipse class="w" cx="662.8" cy="1366.5" rx="8.8" ry="3" stroke-width="1.7"/>
<line class="t" x1="658" y1="1370" x2="668" y2="1369" stroke-width="1.1"/>
<line class="t" x1="658" y1="1372.6" x2="668" y2="1371.6" stroke-width="1.1"/>
<line class="t" x1="658" y1="1375.2" x2="668" y2="1374.2" stroke-width="1.1"/>
<line class="t" x1="658" y1="1377.8" x2="668" y2="1376.8" stroke-width="1.1"/>
<path class="w" d="M651.5,1381 L651.5,1390 L656,1394 L670,1394 L674.3,1390 L674.3,1381 Z" />
<ellipse class="w" cx="662.9" cy="1381" rx="11.4" ry="3.6" stroke-width="1.8"/>
<line class="t" x1="657" y1="1384" x2="657" y2="1393" stroke-width="1"/>
<line class="t" x1="668.5" y1="1384" x2="668.5" y2="1393" stroke-width="1"/>
<line class="ld" x1="631.7" y1="1385.7" x2="651.4" y2="1385.7" />
<path class="w" d="M692,1374 L692,1390 L710,1390 L710,1374 Z" />
<ellipse class="w" cx="701" cy="1373.5" rx="9" ry="3" stroke-width="1.7"/>
<line class="t" x1="696" y1="1377" x2="706" y2="1376" stroke-width="1.1"/>
<line class="t" x1="696" y1="1379.6" x2="706" y2="1378.6" stroke-width="1.1"/>
<line class="t" x1="696" y1="1382.2" x2="706" y2="1381.2" stroke-width="1.1"/>
<line class="t" x1="696" y1="1384.8" x2="706" y2="1383.8" stroke-width="1.1"/>
<line class="t" x1="696" y1="1387.4" x2="706" y2="1386.4" stroke-width="1.1"/>
<path class="w" d="M693,1390 L688,1396 L687,1412 L691,1417 L711,1417 L714,1412 L713,1396 L709,1390 Z" />
<line class="t" x1="692" y1="1398" x2="692" y2="1411" stroke-width="1.1"/>
<line class="t" x1="695" y1="1398" x2="695" y2="1411" stroke-width="1.1"/>
<line class="t" x1="698" y1="1398" x2="698" y2="1411" stroke-width="1.1"/>
<line class="t" x1="701" y1="1398" x2="701" y2="1411" stroke-width="1.1"/>
<line class="t" x1="704" y1="1398" x2="704" y2="1411" stroke-width="1.1"/>
<line class="t" x1="707" y1="1398" x2="707" y2="1411" stroke-width="1.1"/>
<line class="t" x1="710" y1="1398" x2="710" y2="1411" stroke-width="1.1"/>
<ellipse class="s" cx="700.5" cy="1397" rx="12.5" ry="3.5" stroke-width="1.4"/>
<path class="w" d="M692,1417 L693,1422 L699,1424 L706,1423 L710,1417 Z" />
<line class="ld" x1="713.7" y1="1403.3" x2="731.4" y2="1403.3" />
<path class="w" d="M744,1287 L744,1305 L755,1305 L755,1287 Z" />
<ellipse class="w" cx="749.5" cy="1287" rx="5.5" ry="2.2" stroke-width="1.7"/>
<line class="t" x1="746" y1="1290" x2="753" y2="1289" stroke-width="1.1"/>
<line class="t" x1="746" y1="1292.8" x2="753" y2="1291.8" stroke-width="1.1"/>
<line class="t" x1="746" y1="1295.6" x2="753" y2="1294.6" stroke-width="1.1"/>
<line class="t" x1="746" y1="1298.4" x2="753" y2="1297.4" stroke-width="1.1"/>
<line class="t" x1="746" y1="1301.2" x2="753" y2="1300.2" stroke-width="1.1"/>
<ellipse class="w" cx="749.3" cy="1307.5" rx="11" ry="4" stroke-width="1.9"/>
<path class="w" d="M740,1309 L740,1318 L744,1322 L755,1322 L759,1318 L759,1309 Z" />
<ellipse class="w" cx="749.3" cy="1308" rx="10.5" ry="3.6" stroke-width="1.8"/>
<line class="lg" x1="759.4" y1="1311.4" x2="777" y2="1311.4" />
<line class="s" x1="1031" y1="1096.5" x2="1031" y2="1186.4" stroke-width="1.6"/>
<path class="w" d="M1000.7,1073 L1000.7,1087.5 L1000.9,1088.3 L1001.4,1089.2 L1002.2,1090 L1003.3,1090.8 L1004.7,1091.5 L1006.4,1092.2 L1008.4,1092.9 L1010.6,1093.4 L1013,1094 L1015.6,1094.4 L1018.4,1094.8 L1021.3,1095.1 L1024.3,1095.3 L1027.4,1095.5 L1030.5,1095.5 L1033.6,1095.5 L1036.7,1095.3 L1039.7,1095.1 L1042.6,1094.8 L1045.4,1094.4 L1048,1094 L1050.4,1093.4 L1052.6,1092.9 L1054.6,1092.2 L1056.3,1091.5 L1057.7,1090.8 L1058.8,1090 L1059.6,1089.2 L1060.1,1088.3 L1060.3,1087.5 L1060.3,1073 Z" />
<ellipse class="w" cx="1030.5" cy="1073" rx="29.8" ry="8.5" stroke-width="1.9"/>
<path class="s" d="M1059.6,1077.4 C1059.5,1077.5 1059.2,1077.9 1058.9,1078.1 C1058.7,1078.4 1058.4,1078.6 1058.1,1078.8 C1057.8,1079.1 1057.4,1079.3 1057,1079.5 C1056.6,1079.7 1056.2,1079.9 1055.7,1080.2 C1055.2,1080.4 1054.7,1080.6 1054.2,1080.8 C1053.6,1081 1053,1081.2 1052.4,1081.4 C1051.8,1081.5 1051.2,1081.7 1050.5,1081.9 C1049.8,1082.1 1049.1,1082.2 1048.4,1082.4 C1047.7,1082.5 1046.9,1082.7 1046.1,1082.8 C1045.4,1082.9 1044.6,1083 1043.7,1083.1 C1042.9,1083.3 1042.1,1083.4 1041.2,1083.5 C1040.4,1083.5 1039.5,1083.6 1038.6,1083.7 C1037.8,1083.8 1036.9,1083.8 1036,1083.9 C1035.1,1083.9 1034.2,1083.9 1033.2,1084 C1032.3,1084 1031.4,1084 1030.5,1084 C1029.6,1084 1028.7,1084 1027.8,1084 C1026.8,1083.9 1025.9,1083.9 1025,1083.9 C1024.1,1083.8 1023.2,1083.8 1022.4,1083.7 C1021.5,1083.6 1020.6,1083.5 1019.8,1083.5 C1018.9,1083.4 1018.1,1083.3 1017.3,1083.1 C1016.4,1083 1015.6,1082.9 1014.9,1082.8 C1014.1,1082.7 1013.3,1082.5 1012.6,1082.4 C1011.9,1082.2 1011.2,1082.1 1010.5,1081.9 C1009.8,1081.7 1009.2,1081.5 1008.6,1081.4 C1008,1081.2 1007.4,1081 1006.8,1080.8 C1006.3,1080.6 1005.8,1080.4 1005.3,1080.2 C1004.8,1079.9 1004.4,1079.7 1004,1079.5 C1003.6,1079.3 1003.2,1079.1 1002.9,1078.8 C1002.6,1078.6 1002.3,1078.4 1002.1,1078.1 C1001.8,1077.9 1001.5,1077.5 1001.4,1077.4" stroke-width="1.4"/>
<path class="w" d="M1006.4,1060.5 L1041.2,1044.7 L1059.2,1049.2 L1057,1065 L1018.7,1078.5 L1007.5,1071.7 Z" />
<path class="s" d="M1006.4,1060.5 L1018,1064 L1018.7,1078.5" stroke-width="1.7"/>
<path class="s" d="M1018,1064 L1055,1049.5" stroke-width="1.4"/>
<line class="t" x1="1020" y1="1060" x2="1050" y2="1050" stroke-width="1"/>
<line class="lg" x1="1060.3" y1="1075" x2="1080.6" y2="1075" />
<ellipse class="w" cx="1031" cy="1134" rx="25.8" ry="10" stroke-width="2"/>
<ellipse class="w" cx="1031" cy="1131.5" rx="25.8" ry="10" stroke-width="2"/>
<ellipse class="w" cx="1031" cy="1131.5" rx="17.5" ry="5.8" stroke-width="2.4"/>
<path class="s" d="M1047.4,1135 C1047.3,1135.1 1046.9,1135.4 1046.6,1135.6 C1046.3,1135.8 1045.9,1136 1045.5,1136.2 C1045.1,1136.4 1044.7,1136.6 1044.2,1136.8 C1043.7,1137 1043.2,1137.2 1042.7,1137.3 C1042.2,1137.5 1041.6,1137.6 1041,1137.8 C1040.5,1137.9 1039.8,1138 1039.2,1138.1 C1038.6,1138.2 1037.9,1138.3 1037.3,1138.4 C1036.6,1138.5 1035.9,1138.6 1035.2,1138.6 C1034.5,1138.7 1033.8,1138.7 1033.1,1138.8 C1032.4,1138.8 1031.7,1138.8 1031,1138.8 C1030.3,1138.8 1029.6,1138.8 1028.9,1138.8 C1028.2,1138.7 1027.5,1138.7 1026.8,1138.6 C1026.1,1138.6 1025.4,1138.5 1024.7,1138.4 C1024.1,1138.3 1023.4,1138.2 1022.8,1138.1 C1022.2,1138 1021.5,1137.9 1021,1137.8 C1020.4,1137.6 1019.8,1137.5 1019.3,1137.3 C1018.8,1137.2 1018.3,1137 1017.8,1136.8 C1017.3,1136.6 1016.9,1136.4 1016.5,1136.2 C1016.1,1136 1015.7,1135.8 1015.4,1135.6 C1015.1,1135.4 1014.7,1135.1 1014.6,1135" stroke-width="1.4"/>
<line class="s" x1="1031" y1="1121.5" x2="1031" y2="1143.5" stroke-width="1.4"/>
<ellipse class="w" cx="1031" cy="1160" rx="25.8" ry="10" stroke-width="2"/>
<ellipse class="w" cx="1031" cy="1157.5" rx="25.8" ry="10" stroke-width="2"/>
<ellipse class="w" cx="1031" cy="1157.5" rx="17.5" ry="5.8" stroke-width="2.4"/>
<path class="s" d="M1047.4,1161 C1047.3,1161.1 1046.9,1161.4 1046.6,1161.6 C1046.3,1161.8 1045.9,1162 1045.5,1162.2 C1045.1,1162.4 1044.7,1162.6 1044.2,1162.8 C1043.7,1163 1043.2,1163.2 1042.7,1163.3 C1042.2,1163.5 1041.6,1163.6 1041,1163.8 C1040.5,1163.9 1039.8,1164 1039.2,1164.1 C1038.6,1164.2 1037.9,1164.3 1037.3,1164.4 C1036.6,1164.5 1035.9,1164.6 1035.2,1164.6 C1034.5,1164.7 1033.8,1164.7 1033.1,1164.8 C1032.4,1164.8 1031.7,1164.8 1031,1164.8 C1030.3,1164.8 1029.6,1164.8 1028.9,1164.8 C1028.2,1164.7 1027.5,1164.7 1026.8,1164.6 C1026.1,1164.6 1025.4,1164.5 1024.7,1164.4 C1024.1,1164.3 1023.4,1164.2 1022.8,1164.1 C1022.2,1164 1021.5,1163.9 1021,1163.8 C1020.4,1163.6 1019.8,1163.5 1019.3,1163.3 C1018.8,1163.2 1018.3,1163 1017.8,1162.8 C1017.3,1162.6 1016.9,1162.4 1016.5,1162.2 C1016.1,1162 1015.7,1161.8 1015.4,1161.6 C1015.1,1161.4 1014.7,1161.1 1014.6,1161" stroke-width="1.4"/>
<line class="s" x1="1031" y1="1147.5" x2="1031" y2="1169.5" stroke-width="1.4"/>
<line class="ld" x1="1057" y1="1131.8" x2="1093" y2="1141.5" />
<line class="ld" x1="1057" y1="1156" x2="1093" y2="1141.5" />
<path class="w" d="M1010.9,1212 L1011,1260 L1013,1275 L1022,1291 L1034.5,1299 L1057,1300 L1102,1284.3 L1093,1247.2 L1051.3,1263 L1051.3,1212 Z" />
<path class="s" d="M1014,1218 C1014,1225.3 1013.7,1252.3 1014,1262 C1014.3,1271.7 1014.2,1271.5 1016,1276 C1017.8,1280.5 1021.7,1285.7 1025,1289 C1028.3,1292.3 1030.8,1294.7 1036,1296 C1041.2,1297.3 1052.7,1296.8 1056,1297" stroke-width="1.1"/>
<line class="s" x1="1056" y1="1290" x2="1100" y2="1272" stroke-width="1.2"/>
<path class="w" d="M1095.2,1236 C1097.5,1228.9 1105.8,1230.2 1111,1229.2 C1116.2,1228.2 1122.6,1228.8 1126.7,1230.3 C1130.8,1231.8 1133.8,1231.2 1135.7,1238.2 C1137.6,1245.2 1138.8,1265.2 1138,1272 C1137.2,1278.8 1137.2,1276.5 1131.2,1278.7 C1125.2,1280.9 1107.6,1286.5 1102,1285.4 C1096.4,1284.3 1098.5,1280.2 1097.4,1272 C1096.3,1263.8 1092.9,1243.1 1095.2,1236 Z" style="stroke-width:2"/>
<path class="s" d="M1097,1240 C1099.3,1238.8 1106.3,1234.1 1111,1233 C1115.7,1231.9 1121.7,1232.3 1125,1233.5 C1128.3,1234.7 1129.7,1233.9 1131,1240 C1132.3,1246.1 1133.5,1264 1133,1270 C1132.5,1276 1128.8,1275 1128,1276" stroke-width="1.4"/>
<ellipse class="w" cx="1122.2" cy="1242.7" rx="3" ry="3.6" stroke-width="1.8"/>
<line class="s" x1="1093" y1="1247.5" x2="1098" y2="1262" stroke-width="1.2"/>
<path class="w" d="M1003,1191 L1003,1207 L1003.2,1207.7 L1003.6,1208.5 L1004.4,1209.2 L1005.4,1209.8 L1006.8,1210.5 L1008.3,1211.1 L1010.2,1211.7 L1012.3,1212.2 L1014.5,1212.7 L1017,1213.1 L1019.6,1213.4 L1022.3,1213.7 L1025.2,1213.8 L1028.1,1214 L1031,1214 L1033.9,1214 L1036.8,1213.8 L1039.7,1213.7 L1042.4,1213.4 L1045,1213.1 L1047.5,1212.7 L1049.7,1212.2 L1051.8,1211.7 L1053.7,1211.1 L1055.2,1210.5 L1056.6,1209.8 L1057.6,1209.2 L1058.4,1208.5 L1058.8,1207.7 L1059,1207 L1059.2,1191 Z" />
<ellipse class="w" cx="1031" cy="1191" rx="28" ry="7.5" stroke-width="2"/>
<ellipse class="w" cx="1031" cy="1191.5" rx="21" ry="5" stroke-width="1.8"/>
<path class="s" d="M1040,1186.5 L1045,1188 L1045,1193 L1040,1192" stroke-width="1.4"/>
<line class="s" x1="1031" y1="1184" x2="1031" y2="1191" stroke-width="1.4"/>
<line class="s" x1="1012" y1="1287.6" x2="1143" y2="1232.5" stroke-width="1.4"/>
<path class="w" d="M1146,1216 C1147.3,1214.2 1147.7,1212 1152,1211 C1156.3,1210 1167,1209.8 1172,1210 C1177,1210.2 1179.6,1210.3 1182,1212 C1184.4,1213.7 1185.6,1212.8 1186.3,1220 C1187,1227.2 1186.9,1248 1186,1255 C1185.1,1262 1185.3,1260.7 1181,1262 C1176.7,1263.3 1165.5,1263.2 1160,1263 C1154.5,1262.8 1150.7,1262.8 1148,1261 C1145.3,1259.2 1144.3,1258.5 1143.6,1252 C1142.9,1245.5 1143.6,1228 1144,1222 C1144.4,1216 1144.7,1217.8 1146,1216 Z" style="stroke-width:2.2"/>
<path class="w" d="M1156,1222 C1157.7,1218.9 1161,1217.5 1164,1217.5 C1167,1217.5 1171.8,1218.9 1174,1222 C1176.2,1225.1 1177,1231.3 1177,1236 C1177,1240.7 1175.8,1246.8 1174,1250 C1172.2,1253.2 1168.8,1255 1166,1255 C1163.2,1255 1159,1253.2 1157,1250 C1155,1246.8 1153.9,1240.7 1153.7,1236 C1153.5,1231.3 1154.3,1225.1 1156,1222 Z" style="stroke-width:2"/>
<ellipse class="w" cx="1174" cy="1218.5" rx="2.2" ry="2.6" stroke-width="1.6"/>
<ellipse class="w" cx="1152.6" cy="1251.7" rx="2.2" ry="2.6" stroke-width="1.6"/>
<line class="s" x1="1143" y1="1232.5" x2="1176" y2="1218" stroke-width="1.4"/>
<line class="ld" x1="1166" y1="1186.4" x2="1166" y2="1210" />
<path class="w" d="M980,1294 L1010,1283.5 L1013,1290.5 L983,1301 Z" />
<line class="t" x1="986" y1="1292" x2="988" y2="1299" stroke-width="1.1"/>
<line class="t" x1="990" y1="1290.6" x2="992" y2="1297.6" stroke-width="1.1"/>
<line class="t" x1="994" y1="1289.2" x2="996" y2="1296.2" stroke-width="1.1"/>
<line class="t" x1="998" y1="1287.8" x2="1000" y2="1294.8" stroke-width="1.1"/>
<line class="t" x1="1002" y1="1286.4" x2="1004" y2="1293.4" stroke-width="1.1"/>
<line class="t" x1="1006" y1="1285" x2="1008" y2="1292" stroke-width="1.1"/>
<path class="w" d="M966,1298 L972,1293 L980,1293 L984,1300 L983,1309 L977,1314 L969,1314 L964,1309 Z" />
<ellipse class="w" cx="970.5" cy="1305" rx="6" ry="8" transform="rotate(10 970.5 1305)" stroke-width="1.8"/>
<line class="ld" x1="985" y1="1267.4" x2="985" y2="1296" />
<line class="ld" x1="1095.2" y1="1215.7" x2="1095.2" y2="1234.8" />
<g class="lab">
<text x="353.5" y="37.3" style="font-size:23px;fill:#8f8f8f">6</text>
<text x="278.3" y="90.1" style="font-size:23px;fill:#2e2e2e">3</text>
<text x="505" y="279.1" style="font-size:23px;fill:#8f8f8f">5</text>
<text x="607.3" y="138.1" style="font-size:23px;fill:#8f8f8f">4</text>
<text x="692.8" y="141.8" style="font-size:23px;fill:#8f8f8f">7</text>
<text x="826" y="163.4" style="font-size:23px;fill:#5c5c5c">8</text>
<path d="M696 0L515 0L515 1237L197 1010L197 1180L530 1409L696 1409Z" fill="#8f8f8f" transform="translate(904.8,205) scale(0.01123,-0.01123)"/>
<text x="1036.8" y="254" style="font-size:23px;fill:#8f8f8f">9</text>
<text x="1053.7" y="501.3" style="font-size:23px;fill:#8f8f8f">2</text>
<text x="308.8" y="296.5" style="font-size:23px;fill:#2e2e2e">3</text>
<text x="321.6" y="296.5" style="font-size:23px;fill:#2e2e2e">2</text>
<text x="279.6" y="424.8" style="font-size:23px;fill:#2e2e2e">3</text>
<path d="M696 0L515 0L515 1237L197 1010L197 1180L530 1409L696 1409Z" fill="#2e2e2e" transform="translate(292.4,424.8) scale(0.01123,-0.01123)"/>
<text x="288.2" y="604.5" style="font-size:23px;fill:#2e2e2e">3</text>
<text x="301" y="604.5" style="font-size:23px;fill:#2e2e2e">0</text>
<text x="377.6" y="529.5" style="font-size:23px;fill:#8f8f8f">3</text>
<text x="390.4" y="529.5" style="font-size:23px;fill:#8f8f8f">5</text>
<text x="568.2" y="501.3" style="font-size:23px;fill:#2e2e2e">3</text>
<text x="581" y="501.3" style="font-size:23px;fill:#2e2e2e">6</text>
<text x="554.1" y="575.4" style="font-size:23px;fill:#2e2e2e">3</text>
<text x="566.9" y="575.4" style="font-size:23px;fill:#2e2e2e">3</text>
<text x="659.8" y="609.5" style="font-size:23px;fill:#8f8f8f">3</text>
<text x="672.6" y="609.5" style="font-size:23px;fill:#8f8f8f">4</text>
<path d="M696 0L515 0L515 1237L197 1010L197 1180L530 1409L696 1409Z" fill="#8f8f8f" transform="translate(590.6,700.4) scale(0.01123,-0.01123)"/>
<text x="603.4" y="700.4" style="font-size:23px;fill:#8f8f8f">3</text>
<path d="M696 0L515 0L515 1237L197 1010L197 1180L530 1409L696 1409Z" fill="#2e2e2e" transform="translate(766.8,746.3) scale(0.01123,-0.01123)"/>
<text x="779.6" y="746.3" style="font-size:23px;fill:#2e2e2e">0</text>
<path d="M696 0L515 0L515 1237L197 1010L197 1180L530 1409L696 1409Z" fill="#2e2e2e" transform="translate(870.6,780.4) scale(0.01123,-0.01123)"/>
<text x="883.4" y="780.4" style="font-size:23px;fill:#2e2e2e">2</text>
<path d="M696 0L515 0L515 1237L197 1010L197 1180L530 1409L696 1409Z" fill="#8f8f8f" transform="translate(1151.3,596.3) scale(0.01123,-0.01123)"/>
<text x="1164.1" y="596.3" style="font-size:23px;fill:#8f8f8f">4</text>
<path d="M696 0L515 0L515 1237L197 1010L197 1180L530 1409L696 1409Z" fill="#2e2e2e" transform="translate(946.4,891.6) scale(0.01123,-0.01123)"/>
<text x="959.2" y="891.6" style="font-size:23px;fill:#2e2e2e">5</text>
<path d="M696 0L515 0L515 1237L197 1010L197 1180L530 1409L696 1409Z" fill="#8f8f8f" transform="translate(1182.3,887.2) scale(0.01123,-0.01123)"/>
<text x="1195.1" y="887.2" style="font-size:23px;fill:#8f8f8f">6</text>
<path d="M696 0L515 0L515 1237L197 1010L197 1180L530 1409L696 1409Z" fill="#2e2e2e" transform="translate(496.6,789.3) scale(0.01123,-0.01123)"/>
<text x="509.4" y="789.3" style="font-size:23px;fill:#2e2e2e">7</text>
<path d="M696 0L515 0L515 1237L197 1010L197 1180L530 1409L696 1409Z" fill="#8f8f8f" transform="translate(506,998.5) scale(0.01123,-0.01123)"/>
<text x="518.8" y="998.5" style="font-size:23px;fill:#8f8f8f">8</text>
<text x="540.2" y="1270.4" style="font-size:23px;fill:#2e2e2e">2</text>
<text x="553" y="1270.4" style="font-size:23px;fill:#2e2e2e">0</text>
<text x="541.3" y="1295.4" style="font-size:23px;fill:#2e2e2e">2</text>
<path d="M696 0L515 0L515 1237L197 1010L197 1180L530 1409L696 1409Z" fill="#2e2e2e" transform="translate(554.1,1295.4) scale(0.01123,-0.01123)"/>
<text x="604.6" y="1340" style="font-size:23px;fill:#2e2e2e">2</text>
<text x="617.4" y="1340" style="font-size:23px;fill:#2e2e2e">2</text>
<text x="603.5" y="1395" style="font-size:23px;fill:#2e2e2e">2</text>
<text x="616.3" y="1395" style="font-size:23px;fill:#2e2e2e">3</text>
<text x="734.3" y="1411.6" style="font-size:23px;fill:#2e2e2e">2</text>
<text x="747.1" y="1411.6" style="font-size:23px;fill:#2e2e2e">4</text>
<path d="M696 0L515 0L515 1237L197 1010L197 1180L530 1409L696 1409Z" fill="#8f8f8f" transform="translate(782.1,1318.2) scale(0.01123,-0.01123)"/>
<text x="794.9" y="1318.2" style="font-size:23px;fill:#8f8f8f">9</text>
<text x="1088.4" y="1082.9" style="font-size:23px;fill:#8f8f8f">2</text>
<text x="1101.2" y="1082.9" style="font-size:23px;fill:#8f8f8f">6</text>
<text x="1098.5" y="1151.5" style="font-size:23px;fill:#2e2e2e">2</text>
<text x="1111.3" y="1151.5" style="font-size:23px;fill:#2e2e2e">7</text>
<text x="1149.1" y="1179.6" style="font-size:23px;fill:#2e2e2e">2</text>
<text x="1161.9" y="1179.6" style="font-size:23px;fill:#2e2e2e">8</text>
<text x="1082.8" y="1211" style="font-size:23px;fill:#2e2e2e">2</text>
<text x="1095.6" y="1211" style="font-size:23px;fill:#2e2e2e">5</text>
<text x="972.5" y="1265" style="font-size:23px;fill:#2e2e2e">2</text>
<text x="985.3" y="1265" style="font-size:23px;fill:#2e2e2e">9</text>
<path d="M730 0L485 0L485 1180L180 975L180 1185L520 1409L730 1409Z" fill="#4a524d" transform="translate(779.3,673) scale(0.01074,-0.01074)"/>
<path d="M730 0L485 0L485 1180L180 975L180 1185L520 1409L730 1409Z" fill="#4a524d" transform="translate(791.5,673) scale(0.01074,-0.01074)"/>
</g>
</svg>
</body></html>
